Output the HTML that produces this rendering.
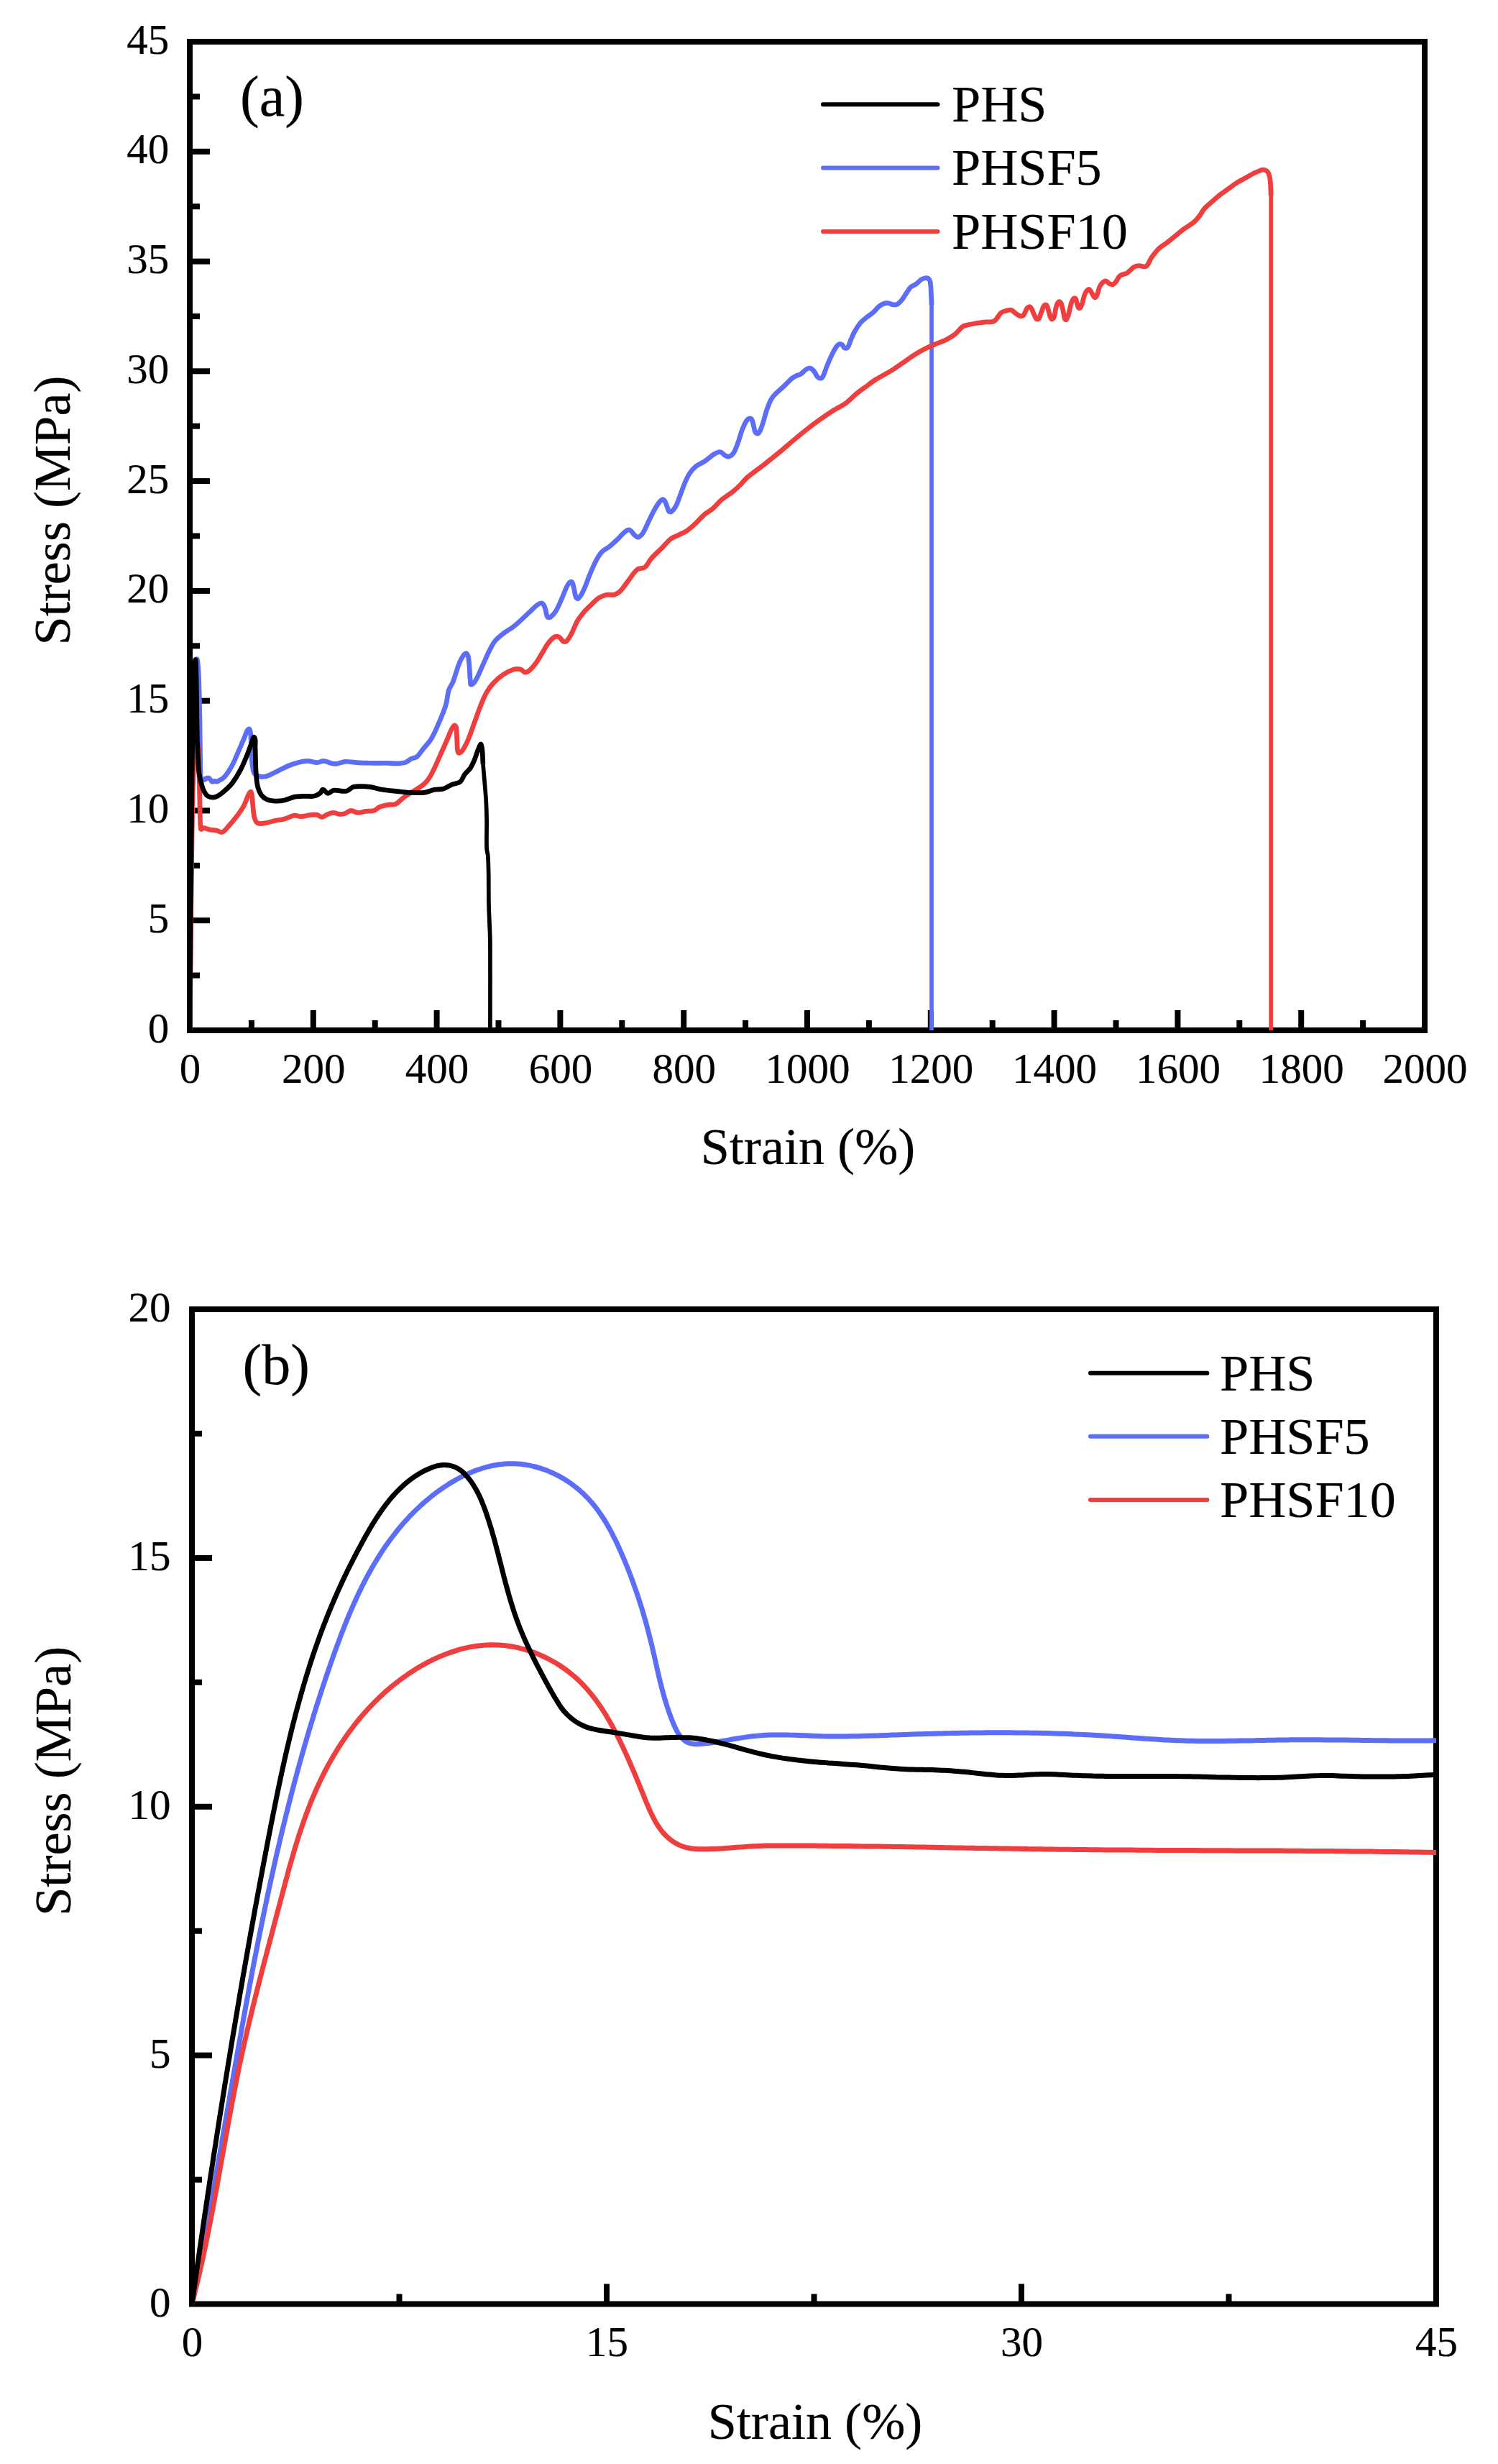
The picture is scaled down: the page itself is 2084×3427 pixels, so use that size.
<!DOCTYPE html>
<html lang="en"><head><meta charset="utf-8"><title>Stress-strain curves</title>
<style>html,body{margin:0;padding:0;background:#fff}body{width:2084px;height:3427px;overflow:hidden}</style>
</head><body>
<svg width="2084" height="3427" viewBox="0 0 2084 3427" style="display:block">
<defs><clipPath id="ca"><rect x="264" y="0" width="1718" height="1433.6"/></clipPath><clipPath id="cb"><rect x="267" y="1700" width="1731" height="1505.1"/></clipPath></defs>
<rect width="2084" height="3427" fill="#fff"/>
<rect x="264" y="58" width="1718" height="1375" fill="none" stroke="#000" stroke-width="8"/>
<g stroke="#000" stroke-width="8"><line x1="435.8" y1="1433" x2="435.8" y2="1405"/><line x1="607.6" y1="1433" x2="607.6" y2="1405"/><line x1="779.4" y1="1433" x2="779.4" y2="1405"/><line x1="951.2" y1="1433" x2="951.2" y2="1405"/><line x1="1123.0" y1="1433" x2="1123.0" y2="1405"/><line x1="1294.8" y1="1433" x2="1294.8" y2="1405"/><line x1="1466.6" y1="1433" x2="1466.6" y2="1405"/><line x1="1638.4" y1="1433" x2="1638.4" y2="1405"/><line x1="1810.2" y1="1433" x2="1810.2" y2="1405"/><line x1="349.9" y1="1433" x2="349.9" y2="1419"/><line x1="521.7" y1="1433" x2="521.7" y2="1419"/><line x1="693.5" y1="1433" x2="693.5" y2="1419"/><line x1="865.3" y1="1433" x2="865.3" y2="1419"/><line x1="1037.1" y1="1433" x2="1037.1" y2="1419"/><line x1="1208.9" y1="1433" x2="1208.9" y2="1419"/><line x1="1380.7" y1="1433" x2="1380.7" y2="1419"/><line x1="1552.5" y1="1433" x2="1552.5" y2="1419"/><line x1="1724.3" y1="1433" x2="1724.3" y2="1419"/><line x1="1896.1" y1="1433" x2="1896.1" y2="1419"/><line x1="264" y1="1280.2" x2="292" y2="1280.2"/><line x1="264" y1="1127.4" x2="292" y2="1127.4"/><line x1="264" y1="974.7" x2="292" y2="974.7"/><line x1="264" y1="821.9" x2="292" y2="821.9"/><line x1="264" y1="669.1" x2="292" y2="669.1"/><line x1="264" y1="516.3" x2="292" y2="516.3"/><line x1="264" y1="363.6" x2="292" y2="363.6"/><line x1="264" y1="210.8" x2="292" y2="210.8"/><line x1="264" y1="1356.6" x2="278" y2="1356.6"/><line x1="264" y1="1203.8" x2="278" y2="1203.8"/><line x1="264" y1="1051.1" x2="278" y2="1051.1"/><line x1="264" y1="898.3" x2="278" y2="898.3"/><line x1="264" y1="745.5" x2="278" y2="745.5"/><line x1="264" y1="592.7" x2="278" y2="592.7"/><line x1="264" y1="439.9" x2="278" y2="439.9"/><line x1="264" y1="287.2" x2="278" y2="287.2"/><line x1="264" y1="134.4" x2="278" y2="134.4"/></g>
<g font-family="Liberation Serif, Times New Roman, serif" stroke="#000" stroke-width="0.2" font-size="59" fill="#000"><text x="235.3" y="1449.5" text-anchor="end">0</text><text x="235.3" y="1296.7" text-anchor="end">5</text><text x="235.3" y="1143.9" text-anchor="end">10</text><text x="235.3" y="991.2" text-anchor="end">15</text><text x="235.3" y="838.4" text-anchor="end">20</text><text x="235.3" y="685.6" text-anchor="end">25</text><text x="235.3" y="532.8" text-anchor="end">30</text><text x="235.3" y="380.1" text-anchor="end">35</text><text x="235.3" y="227.3" text-anchor="end">40</text><text x="235.3" y="74.5" text-anchor="end">45</text><text x="264.5" y="1505.8" text-anchor="middle">0</text><text x="436.3" y="1505.8" text-anchor="middle">200</text><text x="608.1" y="1505.8" text-anchor="middle">400</text><text x="779.9" y="1505.8" text-anchor="middle">600</text><text x="951.7" y="1505.8" text-anchor="middle">800</text><text x="1123.5" y="1505.8" text-anchor="middle">1000</text><text x="1295.3" y="1505.8" text-anchor="middle">1200</text><text x="1467.1" y="1505.8" text-anchor="middle">1400</text><text x="1638.9" y="1505.8" text-anchor="middle">1600</text><text x="1810.7" y="1505.8" text-anchor="middle">1800</text><text x="1982.5" y="1505.8" text-anchor="middle">2000</text></g>
<path d="M264.0 1433.0C264.0 1431.7 264.0 1430.4 264.0 1429.1C264.1 1427.8 264.1 1426.5 264.1 1425.2C264.1 1423.9 264.1 1422.6 264.1 1421.3C264.1 1420.0 264.1 1418.7 264.2 1417.4C264.2 1416.1 264.2 1414.8 264.2 1413.5C264.2 1412.2 264.2 1410.9 264.2 1409.6C264.2 1408.3 264.3 1407.0 264.3 1405.7C264.3 1404.4 264.3 1403.1 264.3 1401.8C264.3 1400.5 264.3 1399.2 264.3 1397.9C264.4 1396.6 264.4 1395.3 264.4 1394.0C264.4 1392.7 264.4 1391.4 264.4 1390.0C264.4 1388.7 264.4 1387.4 264.5 1386.1C264.5 1384.8 264.5 1383.5 264.5 1382.2C264.5 1380.9 264.5 1379.6 264.5 1378.3C264.5 1377.0 264.6 1375.7 264.6 1374.4C264.6 1373.1 264.6 1371.8 264.6 1370.5C264.6 1369.2 264.6 1367.9 264.6 1366.6C264.6 1365.3 264.7 1364.0 264.7 1362.7C264.7 1361.4 264.7 1360.0 264.7 1358.7C264.7 1357.4 264.7 1356.1 264.7 1354.8C264.8 1353.5 264.8 1352.2 264.8 1350.9C264.8 1349.6 264.8 1348.3 264.8 1347.0C264.8 1345.7 264.8 1344.4 264.8 1343.1C264.9 1341.8 264.9 1340.5 264.9 1339.2C264.9 1337.9 264.9 1336.5 264.9 1335.2C264.9 1333.9 264.9 1332.6 264.9 1331.3C265.0 1330.0 265.0 1328.7 265.0 1327.4C265.0 1326.1 265.0 1324.8 265.0 1323.5C265.0 1322.2 265.0 1320.9 265.1 1319.6C265.1 1318.3 265.1 1317.0 265.1 1315.7C265.1 1314.3 265.1 1313.0 265.1 1311.7C265.1 1310.4 265.1 1309.1 265.2 1307.8C265.2 1306.5 265.2 1305.2 265.2 1303.9C265.2 1302.6 265.2 1301.3 265.2 1300.0C265.2 1298.7 265.2 1297.4 265.3 1296.1C265.3 1294.8 265.3 1293.5 265.3 1292.1C265.3 1290.8 265.3 1289.5 265.3 1288.2C265.3 1286.9 265.4 1285.6 265.4 1284.3C265.4 1283.0 265.4 1281.7 265.4 1280.4C265.4 1279.1 265.4 1277.8 265.4 1276.5C265.4 1275.2 265.5 1273.9 265.5 1272.6C265.5 1271.3 265.5 1270.0 265.5 1268.7C265.5 1267.3 265.5 1266.0 265.5 1264.7C265.6 1263.4 265.6 1262.1 265.6 1260.8C265.6 1259.5 265.6 1258.2 265.6 1256.9C265.6 1255.6 265.6 1254.3 265.6 1253.0C265.7 1251.7 265.7 1250.4 265.7 1249.1C265.7 1247.8 265.7 1246.5 265.7 1245.2C265.7 1243.9 265.7 1242.6 265.8 1241.3C265.8 1240.0 265.8 1238.7 265.8 1237.4C265.8 1236.1 265.8 1234.8 265.8 1233.4C265.8 1232.1 265.9 1230.8 265.9 1229.5C265.9 1228.2 265.9 1226.9 265.9 1225.6C265.9 1224.3 265.9 1223.0 265.9 1221.7C266.0 1220.4 266.0 1219.1 266.0 1217.8C266.0 1216.5 266.0 1215.2 266.0 1213.9C266.0 1212.6 266.0 1211.3 266.1 1210.0C266.1 1208.7 266.1 1207.4 266.1 1206.1C266.1 1204.8 266.1 1203.5 266.1 1202.2C266.2 1200.9 266.2 1199.6 266.2 1198.3C266.2 1197.0 266.2 1195.7 266.2 1194.4C266.2 1193.1 266.2 1191.8 266.3 1190.5C266.3 1189.2 266.3 1187.9 266.3 1186.6C266.3 1185.3 266.3 1184.1 266.3 1182.8C266.4 1181.5 266.4 1180.2 266.4 1178.9C266.4 1177.6 266.4 1176.3 266.4 1175.0C266.4 1173.7 266.5 1172.4 266.5 1171.1C266.5 1169.8 266.5 1168.5 266.5 1167.2C266.5 1165.9 266.5 1164.6 266.6 1163.3C266.6 1162.0 266.6 1160.7 266.6 1159.5C266.6 1158.2 266.6 1156.9 266.6 1155.6C266.7 1154.3 266.7 1153.0 266.7 1151.7C266.7 1150.4 266.7 1149.1 266.7 1147.8C266.8 1146.5 266.8 1145.3 266.8 1144.0C266.8 1142.7 266.8 1141.4 266.8 1140.1C266.8 1138.8 266.9 1137.5 266.9 1136.2C266.9 1134.9 266.9 1133.7 266.9 1132.4C266.9 1131.1 267.0 1129.8 267.0 1128.5C267.0 1127.2 267.0 1125.9 267.0 1124.7C267.0 1123.4 267.1 1122.1 267.1 1120.8C267.1 1119.5 267.1 1118.2 267.1 1117.0C267.1 1115.7 267.2 1114.4 267.2 1113.1C267.2 1111.8 267.2 1110.6 267.2 1109.3C267.2 1108.0 267.3 1106.7 267.3 1105.4C267.3 1104.2 267.3 1102.9 267.3 1101.6C267.4 1100.3 267.4 1099.0 267.4 1097.8C267.4 1096.5 267.4 1095.2 267.4 1093.9C267.5 1092.7 267.5 1091.4 267.5 1090.1C267.5 1088.8 267.5 1087.6 267.6 1086.3C267.6 1085.0 267.6 1083.8 267.6 1082.5C267.6 1081.2 267.7 1079.9 267.7 1078.7C267.7 1077.4 267.7 1076.1 267.7 1074.9C267.7 1073.6 267.8 1072.3 267.8 1071.1C267.8 1069.8 267.8 1068.5 267.8 1067.3C267.9 1066.0 267.9 1064.7 267.9 1063.5C267.9 1062.2 267.9 1061.0 268.0 1059.7C268.0 1058.4 268.0 1057.2 268.0 1055.9C268.1 1054.6 268.1 1053.4 268.1 1052.1C268.1 1050.9 268.1 1049.6 268.2 1048.4C268.2 1047.1 268.2 1045.8 268.2 1044.6C268.2 1043.3 268.3 1042.1 268.3 1040.8C268.3 1039.6 268.3 1038.3 268.4 1037.1C268.4 1035.8 268.4 1034.6 268.4 1033.3C268.4 1032.1 268.5 1030.8 268.5 1029.6C268.5 1028.3 268.5 1027.1 268.6 1025.9C268.6 1024.6 268.6 1023.4 268.6 1022.1C268.7 1020.9 268.7 1019.7 268.7 1018.4C268.7 1017.2 268.8 1016.0 268.8 1014.7C268.8 1013.5 268.8 1012.3 268.9 1011.0C268.9 1009.8 268.9 1008.6 268.9 1007.4C269.0 1006.2 269.0 1004.9 269.0 1003.7C269.0 1002.5 269.1 1001.3 269.1 1000.1C269.1 998.9 269.1 997.7 269.2 996.5C269.2 995.3 269.2 994.1 269.3 992.9C269.3 991.7 269.3 990.6 269.4 989.4C269.4 988.2 269.4 987.0 269.4 985.9C269.5 984.7 269.5 983.5 269.5 982.4C269.6 981.2 269.6 980.1 269.6 978.9C269.7 977.8 269.7 976.6 269.7 975.5C269.8 974.4 269.8 973.3 269.9 972.1C269.9 971.0 269.9 969.9 270.0 968.8C270.0 967.7 270.0 966.6 270.1 965.6C270.1 964.5 270.2 963.4 270.2 962.3C270.2 961.3 270.3 960.2 270.3 959.2C270.4 958.2 270.4 957.1 270.5 956.1C270.5 955.1 270.5 954.1 270.6 953.1C270.6 952.1 270.7 951.1 270.7 950.1C270.8 949.2 270.8 948.2 270.9 947.3C270.9 946.3 270.9 945.4 271.0 944.5C271.0 943.6 271.1 942.7 271.1 941.8C271.2 940.9 271.2 940.0 271.3 939.2C271.3 938.3 271.4 937.5 271.5 936.6C271.5 935.8 271.6 935.0 271.6 934.2C271.7 933.4 271.7 932.7 271.8 931.9C271.8 931.2 271.9 930.4 271.9 929.7C272.0 929.0 272.1 928.3 272.1 927.6C272.2 927.0 272.2 926.3 272.3 925.7C272.3 925.1 272.4 924.5 272.5 923.9C272.5 923.3 272.6 922.8 272.7 922.2C272.7 921.8 272.8 921.3 272.8 920.8C272.9 920.4 273.0 919.9 273.0 919.5C273.1 919.2 273.2 918.8 273.2 918.5C273.3 918.2 273.3 917.9 273.4 917.6C273.5 917.4 273.5 917.2 273.6 917.1C273.7 917.0 273.7 916.8 273.8 916.8C273.9 916.7 274.0 916.7 274.0 916.7C274.1 916.8 274.2 916.9 274.2 917.0C274.3 917.2 274.4 917.4 274.4 917.6C274.5 917.8 274.6 918.1 274.6 918.4C274.7 918.7 274.8 919.1 274.8 919.5C274.9 919.9 274.9 920.3 275.0 920.8C275.1 921.3 275.1 921.8 275.2 922.3C275.3 922.9 275.3 923.4 275.4 924.0C275.4 924.7 275.5 925.3 275.5 926.0C275.6 926.7 275.7 927.4 275.7 928.1C275.8 928.9 275.8 929.6 275.9 930.4C275.9 931.2 276.0 932.1 276.0 932.9C276.1 933.8 276.1 934.7 276.2 935.6C276.2 936.5 276.3 937.5 276.3 938.4C276.4 939.4 276.4 940.4 276.5 941.4C276.5 942.4 276.5 943.5 276.6 944.5C276.6 945.6 276.7 946.7 276.7 947.8C276.7 948.9 276.8 950.0 276.8 951.1C276.8 952.2 276.9 953.4 276.9 954.5C276.9 955.7 277.0 956.8 277.0 958.0C277.0 959.1 277.1 960.3 277.1 961.5C277.1 962.7 277.2 963.9 277.2 965.1C277.2 966.3 277.2 967.5 277.3 968.7C277.3 969.9 277.3 971.1 277.4 972.3C277.4 973.5 277.4 974.7 277.4 976.0C277.5 977.2 277.5 978.4 277.5 979.6C277.5 980.9 277.6 982.1 277.6 983.3C277.6 984.6 277.6 985.8 277.7 987.1C277.7 988.3 277.7 989.5 277.7 990.8C277.7 992.0 277.8 993.3 277.8 994.5C277.8 995.8 277.8 997.1 277.9 998.3C277.9 999.6 277.9 1000.8 277.9 1002.1C277.9 1003.4 278.0 1004.6 278.0 1005.9C278.0 1007.2 278.0 1008.4 278.0 1009.7C278.1 1011.0 278.1 1012.2 278.1 1013.5C278.1 1014.8 278.1 1016.1 278.1 1017.3C278.2 1018.6 278.2 1019.9 278.2 1021.2C278.2 1022.5 278.2 1023.8 278.2 1025.1C278.3 1026.3 278.3 1027.6 278.3 1028.9C278.3 1030.2 278.3 1031.5 278.3 1032.8C278.4 1034.1 278.4 1035.4 278.4 1036.7C278.4 1038.0 278.4 1039.3 278.4 1040.5C278.4 1041.8 278.5 1043.1 278.5 1044.4C278.5 1045.7 278.5 1047.0 278.5 1048.3C278.5 1049.6 278.5 1050.9 278.6 1052.2C278.6 1053.4 278.6 1054.7 278.6 1056.0C278.6 1057.3 278.7 1058.6 278.7 1059.8C278.7 1061.1 278.7 1062.4 278.7 1063.7C278.7 1064.9 278.8 1066.2 278.8 1067.4C278.8 1068.7 278.8 1069.9 278.9 1071.2C278.9 1072.4 278.9 1073.7 278.9 1074.9C279.0 1076.1 279.0 1077.4 279.0 1078.6C279.0 1079.8 279.1 1080.9 279.1 1082.1C279.1 1083.2 279.2 1084.2 279.2 1085.3C279.3 1086.1 279.3 1086.9 279.4 1087.7C279.4 1088.1 279.4 1088.5 279.6 1088.9C279.6 1088.9 279.7 1089.0 279.8 1089.0C279.9 1088.9 279.9 1088.7 280.0 1088.6C280.0 1088.4 280.1 1088.3 280.2 1088.1C280.2 1087.9 280.3 1087.7 280.4 1087.5C280.4 1087.3 280.5 1087.1 280.6 1086.9C280.6 1086.6 280.7 1086.4 280.8 1086.2C280.8 1086.0 280.9 1085.7 281.0 1085.5C281.0 1085.3 281.1 1085.1 281.2 1084.9C281.2 1084.7 281.3 1084.5 281.4 1084.3C281.4 1084.2 281.5 1084.0 281.6 1083.9C281.6 1083.8 281.7 1083.7 281.8 1083.6C281.8 1083.5 281.9 1083.5 282.0 1083.4C282.0 1083.4 282.1 1083.4 282.2 1083.3C282.2 1083.3 282.3 1083.3 282.4 1083.3C282.4 1083.4 282.5 1083.4 282.6 1083.4C282.6 1083.5 282.7 1083.5 282.8 1083.5C282.8 1083.6 282.9 1083.6 283.0 1083.7C283.0 1083.7 283.1 1083.8 283.2 1083.8C283.2 1083.9 283.3 1083.9 283.4 1084.0C283.4 1084.0 283.5 1084.1 283.6 1084.1C283.6 1084.2 283.7 1084.2 283.8 1084.2C283.8 1084.2 283.9 1084.2 284.0 1084.2C284.0 1084.3 284.1 1084.3 284.2 1084.3C284.2 1084.3 284.3 1084.2 284.4 1084.2C284.4 1084.2 284.5 1084.2 284.6 1084.2C284.6 1084.1 284.7 1084.1 284.8 1084.1C284.8 1084.0 284.9 1084.0 285.0 1084.0C285.0 1083.9 285.1 1083.9 285.2 1083.9C285.2 1083.8 285.3 1083.8 285.4 1083.7C285.4 1083.7 285.5 1083.6 285.6 1083.6C285.6 1083.5 285.7 1083.5 285.8 1083.4C285.8 1083.4 285.9 1083.3 286.0 1083.3C286.0 1083.2 286.1 1083.2 286.2 1083.1C286.2 1083.1 286.3 1083.0 286.4 1083.0C286.4 1082.9 286.5 1082.9 286.6 1082.9C286.6 1082.8 286.7 1082.8 286.8 1082.7C286.8 1082.7 286.9 1082.7 287.0 1082.6C287.0 1082.6 287.1 1082.5 287.2 1082.5C287.2 1082.5 287.3 1082.4 287.4 1082.4C287.4 1082.4 287.5 1082.3 287.6 1082.3C287.7 1082.3 287.7 1082.3 287.8 1082.2C287.9 1082.2 287.9 1082.2 288.0 1082.2C288.1 1082.1 288.1 1082.1 288.2 1082.1C288.3 1082.1 288.3 1082.1 288.4 1082.1C288.5 1082.0 288.5 1082.0 288.6 1082.0C288.7 1082.0 288.7 1082.0 288.8 1082.0C288.9 1082.0 288.9 1082.0 289.0 1082.0C289.1 1082.0 289.1 1082.0 289.2 1082.0C289.3 1082.0 289.3 1082.0 289.4 1082.0C289.5 1082.0 289.5 1082.0 289.6 1082.0C289.7 1082.0 289.7 1082.0 289.8 1082.0C289.9 1082.1 289.9 1082.1 290.0 1082.1C290.1 1082.1 290.1 1082.1 290.2 1082.2C290.3 1082.2 290.3 1082.2 290.4 1082.2C290.5 1082.3 290.5 1082.3 290.6 1082.3C290.7 1082.4 290.7 1082.4 290.8 1082.4C290.9 1082.5 290.9 1082.5 291.0 1082.6C291.1 1082.6 291.1 1082.7 291.2 1082.7C291.3 1082.8 291.3 1082.8 291.4 1082.9C291.5 1082.9 291.5 1083.0 291.6 1083.1C291.7 1083.1 291.7 1083.2 291.8 1083.3C291.9 1083.3 291.9 1083.4 292.0 1083.5C292.1 1083.6 292.1 1083.6 292.2 1083.7C292.3 1083.8 292.3 1083.9 292.4 1084.0C292.5 1084.1 292.5 1084.2 292.6 1084.2C292.7 1084.3 292.7 1084.4 292.8 1084.5C292.9 1084.6 292.9 1084.7 293.0 1084.8C293.1 1084.9 293.1 1085.0 293.2 1085.1C293.3 1085.2 293.3 1085.3 293.4 1085.4C293.5 1085.5 293.5 1085.6 293.6 1085.7C293.7 1085.8 293.7 1085.8 293.8 1085.9C293.9 1086.0 293.9 1086.1 294.0 1086.2C294.1 1086.3 294.1 1086.3 294.2 1086.4C294.3 1086.5 294.3 1086.5 294.4 1086.6C294.5 1086.7 294.5 1086.7 294.6 1086.8C294.7 1086.8 294.7 1086.9 294.8 1086.9C294.9 1087.0 294.9 1087.0 295.0 1087.0C295.1 1087.0 295.1 1087.1 295.2 1087.1C295.3 1087.1 295.4 1087.1 295.4 1087.1C295.5 1087.1 295.6 1087.1 295.6 1087.1C295.7 1087.1 295.8 1087.1 295.8 1087.1C295.9 1087.1 296.0 1087.1 296.0 1087.1C296.1 1087.1 296.2 1087.1 296.2 1087.1C296.3 1087.0 296.4 1087.0 296.4 1087.0C296.5 1087.0 296.6 1087.0 296.6 1086.9C296.7 1086.9 296.8 1086.9 296.8 1086.9C296.9 1086.8 297.0 1086.8 297.0 1086.8C297.1 1086.8 297.2 1086.7 297.2 1086.7C297.3 1086.7 297.4 1086.6 297.4 1086.6C297.5 1086.6 297.6 1086.6 297.6 1086.5C297.7 1086.5 297.8 1086.5 297.8 1086.5C297.9 1086.5 298.0 1086.4 298.0 1086.4C298.1 1086.4 298.2 1086.4 298.2 1086.4C298.3 1086.4 298.4 1086.4 298.4 1086.4C298.5 1086.4 298.6 1086.4 298.6 1086.4C298.7 1086.4 298.8 1086.4 298.8 1086.4C298.9 1086.4 299.0 1086.4 299.0 1086.4C299.1 1086.4 299.2 1086.4 299.2 1086.4C299.3 1086.4 299.4 1086.4 299.4 1086.4C299.5 1086.5 299.6 1086.5 299.6 1086.5C299.7 1086.5 299.8 1086.5 299.8 1086.5C299.9 1086.5 300.0 1086.6 300.0 1086.6C300.1 1086.6 300.2 1086.6 300.2 1086.6C300.3 1086.6 300.4 1086.7 300.4 1086.7C300.5 1086.7 300.6 1086.7 300.6 1086.7C300.7 1086.7 300.8 1086.8 300.8 1086.8C300.9 1086.8 301.0 1086.8 301.0 1086.8C301.1 1086.8 301.2 1086.8 301.2 1086.9C301.3 1086.9 301.4 1086.9 301.4 1086.9C301.5 1086.9 301.6 1086.9 301.6 1086.9C301.7 1086.9 301.8 1086.9 301.9 1086.9C301.9 1086.9 302.0 1086.9 302.1 1086.9C302.1 1086.9 302.2 1086.9 302.3 1086.9C302.3 1086.9 302.4 1086.9 302.5 1086.9C302.5 1086.9 302.6 1086.9 302.7 1086.8C305.7 1084.9 309.4 1083.8 311.8 1081.1C316.4 1076.0 319.9 1070.1 323.2 1064.1C326.8 1057.5 329.3 1050.4 332.3 1043.6C335.0 1037.6 337.4 1031.5 340.2 1025.5C342.0 1021.6 342.2 1016.1 345.9 1014.1C348.0 1012.9 348.3 1018.5 348.6 1020.9C349.7 1031.5 349.2 1042.1 350.0 1052.7C350.5 1059.6 350.9 1066.6 352.7 1073.2C353.4 1075.6 355.1 1077.9 357.3 1078.9C360.8 1080.4 364.9 1080.6 368.6 1080.0C372.6 1079.4 376.3 1077.2 380.0 1075.5C383.9 1073.8 387.6 1071.7 391.4 1069.8C395.1 1068.0 398.8 1066.0 402.7 1064.5C406.4 1063.0 410.2 1061.6 414.1 1060.7C418.6 1059.6 423.1 1058.4 427.7 1058.4C432.3 1058.4 436.8 1060.7 441.4 1060.7C444.4 1060.7 447.0 1058.2 450.0 1058.3C453.5 1058.4 456.6 1060.5 460.0 1061.3C462.6 1061.9 465.3 1062.6 468.0 1062.3C472.1 1061.9 475.9 1059.5 480.0 1059.3C486.7 1059.0 493.3 1060.6 500.0 1060.9C506.7 1061.2 513.4 1061.2 520.1 1061.3C526.8 1061.4 533.4 1061.2 540.1 1061.3C544.1 1061.4 548.2 1062.1 552.2 1061.9C556.2 1061.7 560.4 1061.6 564.2 1060.3C567.2 1059.3 569.4 1056.7 572.2 1055.3C574.7 1054.0 578.0 1054.1 580.2 1052.3C583.5 1049.6 585.5 1045.6 588.2 1042.3C592.2 1037.3 596.9 1032.7 600.2 1027.2C604.2 1020.6 607.2 1013.3 610.2 1006.2C613.9 997.7 617.6 989.1 620.3 980.2C622.3 973.7 622.3 966.6 624.3 960.1C625.6 955.8 628.7 952.3 630.3 948.1C633.4 940.2 635.2 932.0 638.3 924.1C639.9 919.9 641.7 915.7 644.3 912.1C645.4 910.5 647.9 907.7 649.3 909.1C652.0 911.8 651.8 916.3 652.3 920.1C653.5 928.7 653.3 937.5 654.3 946.1C654.5 948.2 653.8 952.4 655.9 952.1C659.0 951.7 660.7 947.8 662.3 945.1C665.5 939.7 667.7 933.8 670.3 928.1C673.7 920.8 676.7 913.3 680.3 906.1C682.7 901.3 684.9 896.2 688.3 892.0C691.7 887.7 696.1 884.4 700.4 881.0C705.5 877.0 711.4 874.1 716.4 870.0C722.9 864.7 728.8 858.6 735.0 852.9C739.3 849.0 743.1 844.5 747.8 841.1C749.6 839.8 752.2 838.0 754.2 839.0C756.8 840.3 757.5 843.7 758.5 846.4C760.0 850.2 759.5 854.7 761.7 858.2C762.4 859.4 764.8 859.0 765.9 858.2C769.0 856.0 771.4 852.9 773.4 849.7C776.9 844.0 779.2 837.6 782.0 831.5C784.6 825.8 786.3 819.8 789.4 814.4C790.7 812.2 792.3 808.5 794.8 809.1C797.4 809.7 797.2 813.9 798.0 816.5C799.4 821.1 799.4 826.0 801.2 830.4C801.7 831.6 803.4 833.5 804.4 832.6C807.9 829.5 809.9 825.0 811.9 820.8C815.2 813.9 817.4 806.5 820.4 799.4C823.1 792.9 825.7 786.4 829.0 780.2C831.4 775.7 834.0 771.1 837.5 767.4C840.5 764.2 844.8 762.6 848.2 759.9C851.9 756.9 855.4 753.6 858.9 750.3C862.5 746.8 865.5 742.7 869.5 739.6C871.3 738.2 873.8 736.4 876.0 737.1C879.0 738.1 880.0 741.9 882.4 743.9C884.0 745.2 885.7 747.5 887.7 747.1C890.4 746.6 892.5 744.1 894.1 741.8C897.3 737.2 899.1 731.8 901.6 726.8C904.4 721.1 907.0 715.3 910.1 709.7C912.3 705.7 914.6 701.5 917.6 698.0C918.9 696.4 921.0 694.0 922.9 694.8C925.5 695.9 926.0 699.6 927.2 702.2C928.5 705.0 928.7 708.2 930.4 710.8C931.0 711.7 932.7 712.5 933.6 711.9C936.3 710.1 938.4 707.3 940.0 704.4C942.7 699.4 944.3 693.8 946.4 688.4C948.6 682.7 950.5 676.9 952.9 671.3C954.8 666.9 956.7 662.5 959.3 658.5C961.7 654.9 964.4 651.5 967.8 648.8C971.6 645.7 976.5 644.1 980.6 641.4C985.1 638.4 988.8 634.5 993.4 631.7C996.0 630.1 999.0 628.2 1002.0 628.5C1004.6 628.8 1006.1 631.9 1008.4 633.2C1010.0 634.1 1011.9 635.4 1013.7 635.0C1016.2 634.5 1018.7 632.8 1020.1 630.7C1023.0 626.4 1024.6 621.3 1026.4 616.4C1028.8 610.1 1030.3 603.4 1032.8 597.1C1034.6 592.7 1036.2 588.0 1039.2 584.3C1040.4 582.8 1043.0 581.2 1044.6 582.2C1046.9 583.6 1046.9 587.1 1047.8 589.7C1049.1 593.5 1049.0 597.9 1051.0 601.4C1051.7 602.7 1054.2 603.6 1055.2 602.5C1058.1 599.3 1059.1 594.8 1060.6 590.7C1063.1 583.7 1064.5 576.4 1067.0 569.4C1068.8 564.3 1070.7 559.1 1073.4 554.4C1075.0 551.5 1077.5 549.2 1079.8 546.9C1083.2 543.5 1087.0 540.6 1090.5 537.3C1094.2 533.8 1097.4 529.9 1101.2 526.6C1103.1 525.0 1105.4 523.9 1107.6 522.8C1109.7 521.8 1112.1 521.5 1114.0 520.2C1116.8 518.4 1118.7 515.6 1121.5 513.8C1123.1 512.8 1125.0 511.7 1126.8 512.1C1129.0 512.5 1130.7 514.3 1132.2 516.0C1134.4 518.5 1135.2 522.1 1137.5 524.5C1138.6 525.6 1140.3 526.4 1141.8 526.2C1143.2 526.0 1144.4 524.7 1145.0 523.4C1147.2 519.0 1148.4 514.1 1150.3 509.5C1152.3 504.5 1154.4 499.5 1156.7 494.6C1158.6 490.6 1160.6 486.5 1163.1 482.8C1164.2 481.1 1165.5 479.3 1167.4 478.6C1168.8 478.1 1170.5 478.8 1171.7 479.6C1173.2 480.6 1173.3 483.1 1174.9 483.9C1176.2 484.6 1178.3 484.6 1179.2 483.5C1181.5 480.6 1181.9 476.6 1183.4 473.2C1185.1 469.3 1186.7 465.2 1188.8 461.5C1191.3 457.0 1194.0 452.6 1197.3 448.7C1199.8 445.8 1202.9 443.6 1205.9 441.2C1208.7 439.0 1211.7 437.1 1214.4 434.8C1217.4 432.1 1219.8 428.7 1222.9 426.2C1225.1 424.4 1227.7 423.0 1230.4 422.0C1232.1 421.4 1234.0 421.2 1235.8 421.5C1238.0 421.8 1240.0 423.4 1242.2 423.7C1244.3 423.9 1246.7 424.0 1248.6 423.0C1251.2 421.5 1253.1 419.0 1255.0 416.6C1257.4 413.6 1259.2 410.2 1261.4 407.0C1263.1 404.5 1264.4 401.6 1266.7 399.5C1268.8 397.5 1271.9 396.9 1274.2 395.2C1276.9 393.3 1279.0 390.6 1281.7 388.8C1283.3 387.7 1285.1 387.0 1287.0 386.7C1288.4 386.5 1290.1 386.4 1291.3 387.3C1292.8 388.4 1293.8 390.2 1294.1 392.0C1295.3 399.1 1295.2 406.3 1295.6 413.4C1295.8 416.9 1295.9 420.5 1296.0 424.0" fill="none" stroke="#5c6ef8" stroke-width="6.7" stroke-linejoin="round" stroke-linecap="butt" clip-path="url(#ca)"/>
<path d="M1296.0 422.0L1296.0 1433.0" fill="none" stroke="#5c6ef8" stroke-width="5.7" stroke-linejoin="round" stroke-linecap="butt" clip-path="url(#ca)"/>
<path d="M264.0 1433.0C264.0 1431.7 264.0 1430.4 264.1 1429.1C264.1 1427.9 264.1 1426.6 264.1 1425.3C264.1 1424.0 264.1 1422.7 264.1 1421.4C264.2 1420.1 264.2 1418.8 264.2 1417.6C264.2 1416.3 264.2 1415.0 264.2 1413.7C264.3 1412.4 264.3 1411.1 264.3 1409.8C264.3 1408.5 264.3 1407.2 264.3 1405.9C264.3 1404.6 264.4 1403.3 264.4 1402.0C264.4 1400.7 264.4 1399.4 264.4 1398.1C264.4 1396.8 264.4 1395.5 264.5 1394.2C264.5 1392.9 264.5 1391.6 264.5 1390.3C264.5 1389.0 264.5 1387.7 264.5 1386.4C264.5 1385.1 264.6 1383.8 264.6 1382.5C264.6 1381.2 264.6 1379.9 264.6 1378.6C264.6 1377.3 264.6 1376.0 264.6 1374.7C264.7 1373.4 264.7 1372.1 264.7 1370.8C264.7 1369.5 264.7 1368.2 264.7 1366.9C264.7 1365.6 264.7 1364.3 264.8 1363.0C264.8 1361.7 264.8 1360.4 264.8 1359.1C264.8 1357.8 264.8 1356.5 264.8 1355.2C264.8 1353.9 264.9 1352.6 264.9 1351.3C264.9 1350.0 264.9 1348.6 264.9 1347.3C264.9 1346.0 264.9 1344.7 264.9 1343.4C264.9 1342.1 265.0 1340.8 265.0 1339.5C265.0 1338.2 265.0 1336.9 265.0 1335.6C265.0 1334.3 265.0 1333.0 265.0 1331.7C265.1 1330.4 265.1 1329.1 265.1 1327.8C265.1 1326.5 265.1 1325.2 265.1 1323.9C265.1 1322.5 265.1 1321.2 265.1 1319.9C265.2 1318.6 265.2 1317.3 265.2 1316.0C265.2 1314.7 265.2 1313.4 265.2 1312.1C265.2 1310.8 265.2 1309.5 265.3 1308.2C265.3 1306.9 265.3 1305.6 265.3 1304.3C265.3 1303.0 265.3 1301.7 265.3 1300.4C265.3 1299.1 265.4 1297.8 265.4 1296.5C265.4 1295.2 265.4 1293.9 265.4 1292.6C265.4 1291.3 265.4 1290.0 265.5 1288.7C265.5 1287.4 265.5 1286.1 265.5 1284.8C265.5 1283.5 265.5 1282.2 265.5 1280.9C265.6 1279.6 265.6 1278.3 265.6 1277.0C265.6 1275.7 265.6 1274.4 265.6 1273.2C265.6 1271.9 265.7 1270.6 265.7 1269.3C265.7 1268.0 265.7 1266.7 265.7 1265.4C265.7 1264.1 265.7 1262.8 265.8 1261.5C265.8 1260.2 265.8 1258.9 265.8 1257.7C265.8 1256.4 265.8 1255.1 265.9 1253.8C265.9 1252.5 265.9 1251.2 265.9 1249.9C265.9 1248.6 265.9 1247.4 265.9 1246.1C266.0 1244.8 266.0 1243.5 266.0 1242.2C266.0 1240.9 266.0 1239.6 266.0 1238.4C266.1 1237.1 266.1 1235.8 266.1 1234.5C266.1 1233.2 266.1 1231.9 266.1 1230.6C266.2 1229.4 266.2 1228.1 266.2 1226.8C266.2 1225.5 266.2 1224.2 266.2 1222.9C266.3 1221.7 266.3 1220.4 266.3 1219.1C266.3 1217.8 266.3 1216.5 266.4 1215.3C266.4 1214.0 266.4 1212.7 266.4 1211.4C266.4 1210.1 266.4 1208.8 266.5 1207.6C266.5 1206.3 266.5 1205.0 266.5 1203.7C266.5 1202.4 266.5 1201.2 266.6 1199.9C266.6 1198.6 266.6 1197.3 266.6 1196.0C266.6 1194.7 266.6 1193.5 266.7 1192.2C266.7 1190.9 266.7 1189.6 266.7 1188.3C266.7 1187.1 266.7 1185.8 266.8 1184.5C266.8 1183.2 266.8 1181.9 266.8 1180.6C266.8 1179.4 266.8 1178.1 266.9 1176.8C266.9 1175.5 266.9 1174.2 266.9 1173.0C266.9 1171.7 267.0 1170.4 267.0 1169.1C267.0 1167.8 267.0 1166.6 267.0 1165.3C267.0 1164.0 267.1 1162.7 267.1 1161.5C267.1 1160.2 267.1 1158.9 267.1 1157.6C267.2 1156.4 267.2 1155.1 267.2 1153.8C267.2 1152.5 267.2 1151.3 267.2 1150.0C267.3 1148.7 267.3 1147.5 267.3 1146.2C267.3 1144.9 267.3 1143.7 267.4 1142.4C267.4 1141.2 267.4 1139.9 267.4 1138.7C267.5 1137.4 267.5 1136.2 267.5 1134.9C267.5 1133.7 267.5 1132.4 267.6 1131.2C267.6 1129.9 267.6 1128.7 267.6 1127.4C267.7 1126.2 267.7 1125.0 267.7 1123.8C267.7 1122.5 267.8 1121.3 267.8 1120.1C267.8 1118.9 267.8 1117.6 267.9 1116.4C267.9 1115.2 267.9 1114.0 268.0 1112.8C268.0 1111.6 268.0 1110.4 268.0 1109.2C268.1 1108.0 268.1 1106.9 268.1 1105.7C268.2 1104.5 268.2 1103.3 268.2 1102.2C268.3 1101.0 268.3 1099.9 268.3 1098.7C268.4 1097.5 268.4 1096.4 268.4 1095.3C268.5 1094.1 268.5 1093.0 268.5 1091.9C268.6 1090.8 268.6 1089.6 268.6 1088.5C268.7 1087.4 268.7 1086.3 268.8 1085.2C268.8 1084.1 268.8 1083.1 268.9 1082.0C268.9 1080.9 268.9 1079.9 269.0 1078.8C269.0 1077.7 269.1 1076.7 269.1 1075.7C269.2 1074.6 269.2 1073.6 269.2 1072.6C269.3 1071.6 269.3 1070.6 269.4 1069.6C269.4 1068.6 269.5 1067.6 269.5 1066.6C269.6 1065.7 269.6 1064.7 269.6 1063.8C269.7 1062.8 269.7 1061.9 269.8 1061.0C269.8 1060.1 269.9 1059.1 269.9 1058.2C270.0 1057.4 270.0 1056.5 270.1 1055.6C270.1 1054.7 270.2 1053.9 270.2 1053.0C270.3 1052.2 270.3 1051.4 270.4 1050.6C270.5 1049.8 270.5 1049.0 270.6 1048.2C270.6 1047.4 270.7 1046.7 270.7 1045.9C270.8 1045.2 270.8 1044.5 270.9 1043.7C270.9 1043.0 271.0 1042.3 271.1 1041.7C271.1 1041.0 271.2 1040.3 271.2 1039.7C271.3 1039.1 271.4 1038.5 271.4 1037.8C271.5 1037.3 271.5 1036.7 271.6 1036.1C271.7 1035.6 271.7 1035.1 271.8 1034.5C271.8 1034.1 271.9 1033.6 272.0 1033.1C272.0 1032.7 272.1 1032.2 272.2 1031.8C272.2 1031.4 272.3 1031.1 272.4 1030.7C272.4 1030.4 272.5 1030.1 272.5 1029.8C272.6 1029.5 272.7 1029.3 272.7 1029.0C272.8 1028.8 272.9 1028.6 272.9 1028.5C273.0 1028.3 273.1 1028.2 273.1 1028.1C273.2 1028.1 273.3 1028.0 273.3 1028.0C273.4 1028.0 273.5 1028.1 273.5 1028.1C273.6 1028.2 273.7 1028.4 273.7 1028.5C273.8 1028.7 273.9 1028.9 273.9 1029.1C274.0 1029.3 274.1 1029.6 274.1 1029.9C274.2 1030.2 274.3 1030.5 274.3 1030.9C274.4 1031.3 274.5 1031.7 274.5 1032.1C274.6 1032.5 274.7 1033.0 274.7 1033.5C274.8 1034.0 274.8 1034.5 274.9 1035.0C275.0 1035.6 275.0 1036.2 275.1 1036.8C275.1 1037.4 275.2 1038.1 275.3 1038.7C275.3 1039.4 275.4 1040.1 275.4 1040.8C275.5 1041.5 275.5 1042.3 275.6 1043.0C275.7 1043.8 275.7 1044.6 275.8 1045.4C275.8 1046.3 275.9 1047.1 275.9 1048.0C276.0 1048.9 276.0 1049.8 276.1 1050.7C276.1 1051.7 276.2 1052.6 276.2 1053.6C276.2 1054.5 276.3 1055.5 276.3 1056.5C276.4 1057.6 276.4 1058.6 276.5 1059.6C276.5 1060.7 276.5 1061.7 276.6 1062.8C276.6 1063.9 276.7 1065.0 276.7 1066.1C276.7 1067.2 276.8 1068.3 276.8 1069.4C276.8 1070.5 276.9 1071.6 276.9 1072.8C276.9 1073.9 277.0 1075.1 277.0 1076.2C277.0 1077.4 277.1 1078.6 277.1 1079.7C277.1 1080.9 277.2 1082.1 277.2 1083.2C277.2 1084.4 277.3 1085.6 277.3 1086.8C277.3 1088.0 277.3 1089.2 277.4 1090.4C277.4 1091.6 277.4 1092.8 277.5 1094.0C277.5 1095.2 277.5 1096.4 277.5 1097.6C277.6 1098.8 277.6 1100.0 277.6 1101.3C277.7 1102.5 277.7 1103.7 277.7 1104.9C277.7 1106.1 277.8 1107.4 277.8 1108.6C277.8 1109.8 277.8 1111.0 277.9 1112.2C277.9 1113.5 277.9 1114.7 277.9 1115.9C278.0 1117.2 278.0 1118.4 278.0 1119.6C278.0 1120.8 278.1 1122.1 278.1 1123.3C278.1 1124.5 278.1 1125.7 278.2 1127.0C278.2 1128.2 278.2 1129.4 278.2 1130.6C278.3 1131.8 278.3 1133.0 278.3 1134.2C278.4 1135.3 278.4 1136.5 278.4 1137.7C278.5 1138.8 278.5 1139.9 278.5 1141.0C278.6 1142.0 278.6 1143.1 278.7 1144.1C278.7 1145.0 278.8 1145.9 278.8 1146.9C278.9 1147.7 278.9 1148.5 279.0 1149.2C279.0 1149.9 279.1 1150.5 279.1 1151.1C279.2 1151.6 279.3 1152.0 279.3 1152.5C279.4 1152.7 279.4 1153.0 279.5 1153.2C279.6 1153.3 279.6 1153.4 279.7 1153.5C279.8 1153.5 279.9 1153.5 279.9 1153.5C280.0 1153.5 280.1 1153.5 280.1 1153.4C280.2 1153.4 280.3 1153.3 280.3 1153.3C280.4 1153.2 280.5 1153.1 280.5 1153.0C280.6 1152.9 280.7 1152.8 280.7 1152.7C280.8 1152.6 280.9 1152.5 280.9 1152.4C281.0 1152.3 281.1 1152.2 281.1 1152.1C281.2 1152.0 281.3 1152.0 281.3 1151.9C281.4 1151.8 281.5 1151.7 281.5 1151.7C281.6 1151.6 281.7 1151.6 281.7 1151.5C281.8 1151.5 281.9 1151.4 281.9 1151.4C282.0 1151.4 282.1 1151.4 282.1 1151.4C282.2 1151.4 282.3 1151.4 282.3 1151.4C282.4 1151.4 282.5 1151.4 282.5 1151.4C282.6 1151.4 282.7 1151.4 282.7 1151.4C282.8 1151.4 282.9 1151.4 283.0 1151.4C283.0 1151.4 283.1 1151.4 283.2 1151.4C283.2 1151.4 283.3 1151.4 283.4 1151.5C283.4 1151.5 283.5 1151.5 283.6 1151.5C283.6 1151.5 283.7 1151.5 283.8 1151.5C283.8 1151.5 283.9 1151.5 284.0 1151.6C284.0 1151.6 284.1 1151.6 284.2 1151.6C284.2 1151.6 284.3 1151.6 284.4 1151.6C284.4 1151.7 284.5 1151.7 284.6 1151.7C284.6 1151.7 284.7 1151.7 284.8 1151.7C284.8 1151.8 284.9 1151.8 285.0 1151.8C285.0 1151.8 285.1 1151.8 285.2 1151.8C285.2 1151.9 285.3 1151.9 285.4 1151.9C285.4 1151.9 285.5 1151.9 285.6 1152.0C285.6 1152.0 285.7 1152.0 285.8 1152.0C285.8 1152.0 285.9 1152.1 286.0 1152.1C286.0 1152.1 286.1 1152.1 286.2 1152.1C286.2 1152.2 286.3 1152.2 286.4 1152.2C286.4 1152.2 286.5 1152.3 286.6 1152.3C286.6 1152.3 286.7 1152.3 286.8 1152.3C286.8 1152.4 286.9 1152.4 287.0 1152.4C287.0 1152.4 287.1 1152.5 287.2 1152.5C287.2 1152.5 287.3 1152.5 287.4 1152.6C287.4 1152.6 287.5 1152.6 287.6 1152.6C287.6 1152.6 287.7 1152.7 287.8 1152.7C287.8 1152.7 287.9 1152.7 288.0 1152.8C288.0 1152.8 288.1 1152.8 288.2 1152.8C288.2 1152.9 288.3 1152.9 288.4 1152.9C288.4 1152.9 288.5 1152.9 288.6 1153.0C288.6 1153.0 288.7 1153.0 288.8 1153.0C288.8 1153.1 288.9 1153.1 289.0 1153.1C289.0 1153.1 289.1 1153.1 289.2 1153.2C289.3 1153.2 289.3 1153.2 289.4 1153.2C289.5 1153.3 289.5 1153.3 289.6 1153.3C289.7 1153.3 289.7 1153.3 289.8 1153.4C289.9 1153.4 289.9 1153.4 290.0 1153.4C290.1 1153.4 290.1 1153.5 290.2 1153.5C290.3 1153.5 290.3 1153.5 290.4 1153.5C290.5 1153.6 290.5 1153.6 290.6 1153.6C290.7 1153.6 290.7 1153.6 290.8 1153.7C290.9 1153.7 290.9 1153.7 291.0 1153.7C291.1 1153.7 291.1 1153.7 291.2 1153.8C291.3 1153.8 291.3 1153.8 291.4 1153.8C291.5 1153.8 291.5 1153.8 291.6 1153.8C291.7 1153.9 291.7 1153.9 291.8 1153.9C291.9 1153.9 291.9 1153.9 292.0 1153.9C292.1 1153.9 292.1 1154.0 292.2 1154.0C292.3 1154.0 292.3 1154.0 292.4 1154.0C292.5 1154.0 292.5 1154.0 292.6 1154.0C292.7 1154.0 292.7 1154.1 292.8 1154.1C292.9 1154.1 292.9 1154.1 293.0 1154.1C293.1 1154.1 293.1 1154.1 293.2 1154.1C293.3 1154.1 293.3 1154.1 293.4 1154.1C293.5 1154.2 293.5 1154.2 293.6 1154.2C293.7 1154.2 293.7 1154.2 293.8 1154.2C293.9 1154.2 293.9 1154.2 294.0 1154.2C294.1 1154.2 294.1 1154.2 294.2 1154.2C294.3 1154.2 294.3 1154.3 294.4 1154.3C294.5 1154.3 294.5 1154.3 294.6 1154.3C294.7 1154.3 294.7 1154.3 294.8 1154.3C294.9 1154.3 294.9 1154.3 295.0 1154.3C295.1 1154.3 295.1 1154.3 295.2 1154.3C295.3 1154.3 295.3 1154.3 295.4 1154.4C295.5 1154.4 295.6 1154.4 295.6 1154.4C295.7 1154.4 295.8 1154.4 295.8 1154.4C295.9 1154.4 296.0 1154.4 296.0 1154.4C296.1 1154.4 296.2 1154.4 296.2 1154.4C296.3 1154.4 296.4 1154.4 296.4 1154.4C296.5 1154.4 296.6 1154.4 296.6 1154.5C296.7 1154.5 296.8 1154.5 296.8 1154.5C296.9 1154.5 297.0 1154.5 297.0 1154.5C297.1 1154.5 297.2 1154.5 297.2 1154.5C297.3 1154.5 297.4 1154.5 297.4 1154.5C297.5 1154.5 297.6 1154.5 297.6 1154.5C297.7 1154.6 297.8 1154.6 297.8 1154.6C297.9 1154.6 298.0 1154.6 298.0 1154.6C298.1 1154.6 298.2 1154.6 298.2 1154.6C298.3 1154.6 298.4 1154.6 298.4 1154.6C298.5 1154.6 298.6 1154.7 298.6 1154.7C298.7 1154.7 298.8 1154.7 298.8 1154.7C298.9 1154.7 299.0 1154.7 299.0 1154.7C299.1 1154.7 299.2 1154.7 299.2 1154.7C299.3 1154.8 299.4 1154.8 299.4 1154.8C299.5 1154.8 299.6 1154.8 299.6 1154.8C299.7 1154.8 299.8 1154.8 299.8 1154.8C299.9 1154.9 300.0 1154.9 300.0 1154.9C300.1 1154.9 300.2 1154.9 300.2 1154.9C300.3 1154.9 300.4 1154.9 300.4 1155.0C300.5 1155.0 300.6 1155.0 300.6 1155.0C300.7 1155.0 300.8 1155.0 300.8 1155.1C300.9 1155.1 301.0 1155.1 301.0 1155.1C301.1 1155.1 301.2 1155.1 301.2 1155.2C301.3 1155.2 301.4 1155.2 301.4 1155.2C301.5 1155.2 301.6 1155.2 301.6 1155.3C301.7 1155.3 301.8 1155.3 301.9 1155.3C301.9 1155.3 302.0 1155.4 302.1 1155.4C302.1 1155.4 302.2 1155.4 302.3 1155.5C302.3 1155.5 302.4 1155.5 302.5 1155.5C302.5 1155.6 302.6 1155.6 302.7 1155.6C304.9 1156.2 307.4 1158.3 309.5 1157.3C313.4 1155.5 315.7 1151.4 318.6 1148.2C322.6 1143.8 326.4 1139.3 330.0 1134.5C333.3 1130.1 336.5 1125.7 339.1 1120.9C341.8 1115.8 343.2 1110.1 345.9 1105.0C346.6 1103.6 348.7 1100.1 349.3 1101.6C351.5 1106.9 350.9 1112.9 351.6 1118.6C352.4 1124.7 352.4 1130.9 353.9 1136.8C354.7 1139.8 355.7 1143.3 358.4 1144.8C361.4 1146.4 365.2 1145.3 368.6 1144.8C373.3 1144.1 377.7 1142.4 382.3 1141.4C386.8 1140.5 391.5 1140.3 395.9 1139.1C400.6 1137.8 404.7 1134.8 409.5 1134.1C412.5 1133.6 415.5 1135.8 418.6 1135.7C423.2 1135.6 427.7 1133.9 432.3 1133.4C435.3 1133.1 438.4 1132.8 441.4 1133.4C443.8 1133.9 445.6 1136.6 448.0 1136.4C451.0 1136.2 453.2 1133.4 456.0 1132.4C458.6 1131.4 461.3 1130.4 464.0 1130.4C466.7 1130.4 469.3 1132.2 472.0 1132.4C474.7 1132.6 477.5 1132.2 480.1 1131.4C482.9 1130.5 485.1 1127.6 488.1 1127.4C491.6 1127.2 494.6 1130.2 498.1 1130.4C501.5 1130.6 504.7 1128.9 508.1 1128.4C512.1 1127.9 516.3 1128.6 520.1 1127.4C523.1 1126.5 525.2 1123.6 528.1 1122.4C531.9 1120.9 536.0 1120.1 540.1 1119.4C543.4 1118.8 547.1 1119.8 550.2 1118.4C554.1 1116.7 556.8 1113.0 560.2 1110.4C563.5 1107.9 566.8 1105.5 570.2 1103.3C573.5 1101.2 576.9 1099.4 580.2 1097.3C583.6 1095.1 587.2 1093.1 590.2 1090.3C593.3 1087.4 596.0 1083.9 598.2 1080.3C601.3 1075.2 603.7 1069.7 606.2 1064.3C609.0 1058.4 611.5 1052.3 614.2 1046.3C616.9 1040.3 619.6 1034.3 622.3 1028.2C624.3 1023.6 625.8 1018.6 628.3 1014.2C629.5 1012.2 631.5 1007.7 633.3 1009.2C636.1 1011.6 634.9 1016.5 635.3 1020.2C635.9 1026.9 635.6 1033.6 636.3 1040.3C636.6 1042.7 635.9 1046.7 638.3 1047.3C640.8 1047.9 642.9 1044.5 644.3 1042.3C647.6 1037.3 650.0 1031.7 652.3 1026.2C655.3 1019.0 657.6 1011.5 660.3 1004.2C663.0 996.9 665.4 989.4 668.3 982.2C670.7 976.1 673.1 969.9 676.3 964.1C679.1 959.1 682.4 954.3 686.3 950.1C690.5 945.6 695.3 941.6 700.4 938.1C704.7 935.2 709.4 932.6 714.4 931.1C717.6 930.1 721.2 930.1 724.4 930.9C726.9 931.5 728.2 934.9 730.7 935.1C733.1 935.3 735.3 933.5 737.1 931.9C740.3 929.1 743.1 925.8 745.6 922.3C748.8 917.9 751.3 913.0 754.2 908.4C757.0 903.8 759.4 898.8 762.7 894.5C765.1 891.3 767.8 888.0 771.3 886.0C773.2 884.9 775.8 885.0 777.7 886.0C780.4 887.3 781.4 891.1 784.1 892.4C785.4 893.1 787.4 892.3 788.4 891.3C791.1 888.6 793.0 885.1 794.8 881.7C798.0 875.8 800.0 869.3 803.3 863.5C805.7 859.3 808.8 855.5 811.9 851.8C815.2 848.0 818.9 844.6 822.5 841.1C826.0 837.8 829.2 834.1 833.2 831.5C836.4 829.4 840.1 828.0 843.9 827.2C847.4 826.5 851.2 828.1 854.6 827.2C857.8 826.3 860.7 824.3 863.1 821.9C867.2 817.8 870.2 812.6 873.8 808.0C878.0 802.6 881.3 796.3 886.6 792.0C889.5 789.6 894.4 791.1 897.3 788.8C901.1 785.8 902.7 780.7 905.9 777.0C910.5 771.7 915.8 767.1 920.8 762.1C925.1 757.8 928.8 752.9 933.6 749.2C936.7 746.8 940.7 745.7 944.3 743.9C947.9 742.1 951.7 740.8 955.0 738.6C959.6 735.5 963.7 731.7 967.8 727.9C972.2 723.8 976.0 719.0 980.6 715.1C983.9 712.3 988.0 710.4 991.3 707.6C995.9 703.7 999.5 698.7 1004.1 694.8C1008.8 690.8 1014.3 687.9 1019.1 684.1C1022.9 681.1 1026.4 677.9 1029.8 674.5C1033.1 671.3 1035.7 667.4 1039.2 664.4C1046.7 658.0 1054.9 652.4 1062.7 646.3C1069.9 640.7 1077.1 635.0 1084.1 629.2C1091.3 623.2 1098.3 617.0 1105.5 611.0C1111.1 606.3 1116.7 601.6 1122.5 597.1C1128.1 592.7 1133.8 588.4 1139.6 584.3C1145.2 580.3 1150.9 576.3 1156.7 572.6C1163.7 568.1 1171.3 564.6 1178.1 559.7C1182.8 556.3 1186.5 551.7 1190.9 548.0C1195.0 544.6 1199.4 541.5 1203.7 538.4C1208.7 534.8 1213.5 531.0 1218.7 527.7C1223.5 524.6 1228.7 522.1 1233.6 519.2C1237.2 517.1 1240.8 515.0 1244.3 512.7C1247.9 510.3 1251.4 507.8 1255.0 505.3C1260.7 501.4 1266.3 497.2 1272.1 493.5C1276.9 490.4 1281.9 487.6 1287.0 485.0C1292.6 482.2 1298.4 479.9 1304.1 477.5C1307.6 476.0 1311.4 475.0 1314.8 473.2C1319.5 470.8 1324.3 468.2 1328.5 464.9C1332.5 461.8 1335.2 457.2 1339.2 454.2C1341.0 452.9 1343.4 452.6 1345.6 452.1C1349.9 451.1 1354.2 450.2 1358.5 449.5C1362.7 448.8 1367.0 448.3 1371.3 447.8C1375.2 447.4 1379.6 448.7 1383.0 446.7C1387.3 444.1 1388.8 438.4 1392.6 435.0C1394.3 433.5 1396.8 433.0 1399.0 432.4C1401.4 431.7 1404.0 430.6 1406.5 431.1C1408.7 431.5 1410.1 433.7 1411.9 435.0C1414.0 436.5 1415.9 438.5 1418.3 439.3C1420.0 439.8 1422.4 440.1 1423.6 438.8C1426.3 436.1 1426.5 431.6 1428.9 428.6C1429.9 427.4 1432.0 426.0 1433.2 426.9C1435.7 428.7 1436.1 432.3 1437.5 435.0C1439.0 437.8 1439.7 441.1 1441.8 443.5C1442.5 444.3 1444.4 444.4 1445.0 443.5C1447.2 440.4 1447.5 436.3 1449.2 432.9C1450.7 429.8 1451.1 423.9 1454.6 423.9C1457.9 423.9 1457.6 429.8 1458.9 432.9C1460.3 436.4 1460.2 440.7 1462.7 443.5C1463.6 444.5 1465.8 442.7 1466.3 441.4C1468.2 436.6 1467.8 431.2 1469.5 426.4C1470.4 423.9 1471.2 418.9 1473.8 419.6C1477.0 420.4 1477.1 425.4 1478.1 428.6C1479.6 433.4 1479.7 438.7 1481.3 443.5C1481.5 444.3 1482.9 445.2 1483.4 444.6C1485.1 442.5 1485.8 439.7 1486.6 437.1C1488.3 431.5 1488.8 425.5 1490.9 420.0C1491.7 417.9 1493.0 414.1 1495.2 414.7C1497.8 415.5 1497.3 419.7 1498.4 422.2C1499.3 424.3 1499.0 427.9 1501.2 428.6C1503.0 429.2 1504.1 426.0 1504.8 424.3C1506.8 419.5 1507.0 414.1 1509.1 409.4C1510.3 406.7 1511.6 403.1 1514.4 402.5C1516.5 402.0 1517.4 405.5 1518.7 407.2C1520.3 409.2 1520.6 412.6 1522.9 413.6C1524.3 414.2 1525.5 411.8 1526.2 410.4C1528.1 406.3 1528.1 401.5 1530.4 397.6C1532.1 394.7 1534.6 391.6 1537.9 390.8C1540.0 390.3 1541.2 393.5 1543.2 394.4C1544.9 395.1 1546.9 396.1 1548.6 395.5C1550.5 394.9 1551.6 392.8 1552.9 391.2C1554.9 388.7 1555.7 385.2 1558.2 383.3C1560.9 381.2 1564.9 381.6 1567.8 379.8C1571.5 377.6 1574.0 373.7 1577.6 371.4C1579.5 370.2 1581.8 369.6 1584.0 369.5C1587.5 369.3 1591.4 372.1 1594.4 370.3C1598.3 367.9 1599.0 362.3 1601.7 358.6C1604.7 354.4 1607.6 350.2 1611.3 346.6C1615.1 342.9 1619.9 340.3 1624.1 337.0C1628.4 333.6 1632.6 330.0 1636.9 326.6C1640.6 323.6 1644.3 320.6 1648.1 317.8C1652.3 314.7 1656.9 312.3 1660.9 308.9C1663.9 306.3 1666.5 303.2 1668.9 300.1C1671.3 297.1 1672.8 293.4 1675.3 290.5C1678.7 286.7 1682.8 283.5 1686.6 280.1C1690.3 276.8 1693.9 273.5 1697.8 270.5C1701.4 267.7 1705.3 265.2 1709.0 262.5C1712.7 259.8 1716.3 257.0 1720.2 254.5C1724.3 251.9 1728.7 249.7 1733.0 247.3C1736.7 245.2 1740.4 242.8 1744.2 240.9C1746.8 239.6 1749.5 238.6 1752.2 237.6C1753.8 237.0 1755.3 236.0 1757.0 236.0C1758.7 236.0 1760.5 236.6 1761.9 237.6C1763.3 238.6 1764.5 240.1 1765.1 241.7C1766.3 244.8 1766.7 248.1 1767.1 251.3C1767.6 255.5 1767.7 259.8 1767.9 264.1C1768.0 266.7 1768.0 269.4 1768.1 272.0" fill="none" stroke="#ee3e3e" stroke-width="6.7" stroke-linejoin="round" stroke-linecap="butt" clip-path="url(#ca)"/>
<path d="M1768.1 270.0L1768.1 1433.0" fill="none" stroke="#ee3e3e" stroke-width="5.7" stroke-linejoin="round" stroke-linecap="butt" clip-path="url(#ca)"/>
<path d="M264.0 1433.0C264.0 1431.7 264.0 1430.4 264.0 1429.1C264.0 1427.7 264.0 1426.4 264.1 1425.1C264.1 1423.8 264.1 1422.5 264.1 1421.2C264.1 1419.9 264.1 1418.6 264.1 1417.2C264.1 1415.9 264.1 1414.6 264.1 1413.3C264.2 1412.0 264.2 1410.7 264.2 1409.4C264.2 1408.1 264.2 1406.7 264.2 1405.4C264.2 1404.1 264.2 1402.8 264.2 1401.5C264.2 1400.2 264.2 1398.9 264.3 1397.6C264.3 1396.3 264.3 1394.9 264.3 1393.6C264.3 1392.3 264.3 1391.0 264.3 1389.7C264.3 1388.4 264.3 1387.1 264.3 1385.8C264.4 1384.4 264.4 1383.1 264.4 1381.8C264.4 1380.5 264.4 1379.2 264.4 1377.9C264.4 1376.6 264.4 1375.3 264.4 1374.0C264.4 1372.6 264.5 1371.3 264.5 1370.0C264.5 1368.7 264.5 1367.4 264.5 1366.1C264.5 1364.8 264.5 1363.5 264.5 1362.1C264.5 1360.8 264.5 1359.5 264.6 1358.2C264.6 1356.9 264.6 1355.6 264.6 1354.3C264.6 1353.0 264.6 1351.7 264.6 1350.4C264.6 1349.0 264.6 1347.7 264.6 1346.4C264.7 1345.1 264.7 1343.8 264.7 1342.5C264.7 1341.2 264.7 1339.9 264.7 1338.6C264.7 1337.2 264.7 1335.9 264.7 1334.6C264.7 1333.3 264.8 1332.0 264.8 1330.7C264.8 1329.4 264.8 1328.1 264.8 1326.8C264.8 1325.5 264.8 1324.1 264.8 1322.8C264.8 1321.5 264.8 1320.2 264.9 1318.9C264.9 1317.6 264.9 1316.3 264.9 1315.0C264.9 1313.7 264.9 1312.4 264.9 1311.0C264.9 1309.7 264.9 1308.4 265.0 1307.1C265.0 1305.8 265.0 1304.5 265.0 1303.2C265.0 1301.9 265.0 1300.6 265.0 1299.3C265.0 1298.0 265.0 1296.6 265.0 1295.3C265.1 1294.0 265.1 1292.7 265.1 1291.4C265.1 1290.1 265.1 1288.8 265.1 1287.5C265.1 1286.2 265.1 1284.9 265.1 1283.6C265.2 1282.3 265.2 1280.9 265.2 1279.6C265.2 1278.3 265.2 1277.0 265.2 1275.7C265.2 1274.4 265.2 1273.1 265.2 1271.8C265.3 1270.5 265.3 1269.2 265.3 1267.9C265.3 1266.6 265.3 1265.2 265.3 1263.9C265.3 1262.6 265.3 1261.3 265.3 1260.0C265.4 1258.7 265.4 1257.4 265.4 1256.1C265.4 1254.8 265.4 1253.5 265.4 1252.2C265.4 1250.9 265.4 1249.6 265.4 1248.3C265.5 1246.9 265.5 1245.6 265.5 1244.3C265.5 1243.0 265.5 1241.7 265.5 1240.4C265.5 1239.1 265.5 1237.8 265.5 1236.5C265.6 1235.2 265.6 1233.9 265.6 1232.6C265.6 1231.3 265.6 1230.0 265.6 1228.7C265.6 1227.4 265.6 1226.0 265.7 1224.7C265.7 1223.4 265.7 1222.1 265.7 1220.8C265.7 1219.5 265.7 1218.2 265.7 1216.9C265.7 1215.6 265.7 1214.3 265.8 1213.0C265.8 1211.7 265.8 1210.4 265.8 1209.1C265.8 1207.8 265.8 1206.5 265.8 1205.2C265.8 1203.9 265.9 1202.5 265.9 1201.2C265.9 1199.9 265.9 1198.6 265.9 1197.3C265.9 1196.0 265.9 1194.7 265.9 1193.4C265.9 1192.1 266.0 1190.8 266.0 1189.5C266.0 1188.2 266.0 1186.9 266.0 1185.6C266.0 1184.3 266.0 1183.0 266.0 1181.7C266.1 1180.4 266.1 1179.1 266.1 1177.8C266.1 1176.5 266.1 1175.2 266.1 1173.9C266.1 1172.6 266.1 1171.3 266.2 1169.9C266.2 1168.6 266.2 1167.3 266.2 1166.0C266.2 1164.7 266.2 1163.4 266.2 1162.1C266.2 1160.8 266.3 1159.5 266.3 1158.2C266.3 1156.9 266.3 1155.6 266.3 1154.3C266.3 1153.0 266.3 1151.7 266.3 1150.4C266.4 1149.1 266.4 1147.8 266.4 1146.5C266.4 1145.2 266.4 1143.9 266.4 1142.6C266.4 1141.3 266.4 1140.0 266.5 1138.7C266.5 1137.4 266.5 1136.1 266.5 1134.8C266.5 1133.5 266.5 1132.2 266.5 1130.9C266.5 1129.6 266.6 1128.3 266.6 1127.0C266.6 1125.7 266.6 1124.4 266.6 1123.1C266.6 1121.8 266.6 1120.5 266.7 1119.2C266.7 1117.9 266.7 1116.6 266.7 1115.3C266.7 1114.0 266.7 1112.7 266.7 1111.4C266.8 1110.1 266.8 1108.8 266.8 1107.5C266.8 1106.2 266.8 1104.9 266.8 1103.6C266.8 1102.3 266.9 1101.0 266.9 1099.8C266.9 1098.5 266.9 1097.2 266.9 1095.9C266.9 1094.6 266.9 1093.3 267.0 1092.0C267.0 1090.7 267.0 1089.4 267.0 1088.1C267.0 1086.8 267.0 1085.5 267.0 1084.3C267.1 1083.0 267.1 1081.7 267.1 1080.4C267.1 1079.1 267.1 1077.8 267.1 1076.5C267.2 1075.2 267.2 1074.0 267.2 1072.7C267.2 1071.4 267.2 1070.1 267.2 1068.8C267.3 1067.6 267.3 1066.3 267.3 1065.0C267.3 1063.7 267.3 1062.4 267.4 1061.2C267.4 1059.9 267.4 1058.6 267.4 1057.3C267.4 1056.1 267.4 1054.8 267.5 1053.5C267.5 1052.2 267.5 1051.0 267.5 1049.7C267.5 1048.4 267.6 1047.2 267.6 1045.9C267.6 1044.6 267.6 1043.4 267.6 1042.1C267.7 1040.8 267.7 1039.6 267.7 1038.3C267.7 1037.0 267.7 1035.8 267.8 1034.5C267.8 1033.3 267.8 1032.0 267.8 1030.8C267.8 1029.5 267.9 1028.3 267.9 1027.0C267.9 1025.8 267.9 1024.5 268.0 1023.3C268.0 1022.0 268.0 1020.8 268.0 1019.5C268.1 1018.3 268.1 1017.0 268.1 1015.8C268.1 1014.6 268.1 1013.3 268.2 1012.1C268.2 1010.9 268.2 1009.6 268.2 1008.4C268.3 1007.2 268.3 1005.9 268.3 1004.7C268.4 1003.5 268.4 1002.3 268.4 1001.1C268.4 999.8 268.5 998.6 268.5 997.4C268.5 996.2 268.5 995.0 268.6 993.8C268.6 992.6 268.6 991.4 268.6 990.2C268.7 989.0 268.7 987.8 268.7 986.6C268.8 985.4 268.8 984.2 268.8 983.0C268.9 981.8 268.9 980.6 268.9 979.4C268.9 978.2 269.0 977.1 269.0 975.9C269.0 974.7 269.1 973.5 269.1 972.3C269.1 971.2 269.2 970.0 269.2 968.8C269.2 967.7 269.3 966.5 269.3 965.3C269.3 964.2 269.3 963.0 269.4 961.8C269.4 960.7 269.4 959.5 269.5 958.4C269.5 957.2 269.5 956.1 269.6 954.9C269.6 953.8 269.7 952.7 269.7 951.6C269.7 950.4 269.8 949.3 269.8 948.2C269.8 947.1 269.9 946.0 269.9 944.9C269.9 943.9 270.0 942.8 270.0 941.7C270.1 940.7 270.1 939.7 270.2 938.6C270.2 937.6 270.2 936.6 270.3 935.6C270.3 934.7 270.4 933.7 270.4 932.8C270.5 931.8 270.5 930.9 270.6 930.0C270.6 929.2 270.7 928.3 270.7 927.5C270.8 926.7 270.8 925.9 270.9 925.1C270.9 924.4 271.0 923.6 271.1 922.9C271.1 922.3 271.2 921.7 271.2 921.0C271.3 920.5 271.3 919.9 271.4 919.4C271.5 919.0 271.5 918.5 271.6 918.1C271.7 917.9 271.6 917.6 271.8 917.5C271.9 917.4 272.0 917.7 272.0 917.8C272.1 918.2 272.1 918.6 272.2 919.0C272.3 919.7 272.3 920.4 272.4 921.1C272.4 922.0 272.5 922.9 272.5 923.8C272.6 924.8 272.6 925.9 272.6 926.9C272.7 928.0 272.7 929.1 272.8 930.2C272.8 931.3 272.8 932.5 272.9 933.6C272.9 934.8 272.9 936.0 272.9 937.2C273.0 938.4 273.0 939.6 273.0 940.8C273.1 942.1 273.1 943.3 273.1 944.5C273.1 945.8 273.1 947.0 273.2 948.3C273.2 949.6 273.2 950.8 273.2 952.1C273.2 953.3 273.3 954.6 273.3 955.9C273.3 957.1 273.3 958.4 273.3 959.7C273.4 961.0 273.4 962.2 273.4 963.5C273.4 964.8 273.4 966.1 273.4 967.4C273.5 968.6 273.5 969.9 273.5 971.2C273.5 972.5 273.5 973.8 273.5 975.1C273.6 976.3 273.6 977.6 273.6 978.9C273.6 980.2 273.6 981.5 273.6 982.8C273.7 984.1 273.7 985.3 273.7 986.6C273.7 987.9 273.7 989.2 273.8 990.5C273.8 991.7 273.8 993.0 273.8 994.3C273.8 995.6 273.8 996.9 273.9 998.1C273.9 999.4 273.9 1000.7 273.9 1001.9C273.9 1003.2 274.0 1004.5 274.0 1005.7C274.0 1007.0 274.0 1008.3 274.0 1009.5C274.1 1010.8 274.1 1012.0 274.1 1013.3C274.1 1014.5 274.2 1015.7 274.2 1017.0C274.2 1018.2 274.2 1019.4 274.3 1020.7C274.3 1021.9 274.3 1023.1 274.3 1024.3C274.4 1025.5 274.4 1026.7 274.4 1028.0C274.4 1029.2 274.4 1030.4 274.5 1031.6C275.2 1045.4 275.6 1059.2 276.6 1073.0C276.8 1076.0 277.6 1079.0 278.2 1082.0C278.7 1084.5 279.3 1087.0 280.0 1089.5C280.7 1091.9 281.3 1094.2 282.2 1096.5C282.9 1098.2 283.5 1100.0 284.5 1101.6C285.8 1103.7 287.1 1106.0 289.1 1107.3C291.1 1108.6 293.6 1109.1 295.9 1109.1C298.2 1109.1 300.6 1108.4 302.7 1107.3C306.0 1105.5 309.0 1103.0 311.8 1100.5C315.8 1096.9 319.9 1093.4 323.2 1089.1C327.5 1083.4 331.2 1077.2 334.5 1070.9C338.0 1064.3 340.7 1057.4 343.6 1050.5C346.1 1044.5 348.0 1038.3 350.5 1032.3C351.5 1030.0 352.5 1023.4 353.9 1025.5C356.4 1029.2 354.8 1034.5 355.0 1039.0C355.5 1050.4 355.4 1061.8 356.1 1073.2C356.5 1080.0 356.9 1086.9 358.4 1093.6C359.3 1097.6 360.7 1101.6 363.0 1105.0C365.0 1107.9 367.8 1110.3 370.9 1111.8C374.4 1113.5 378.4 1113.9 382.3 1114.1C386.8 1114.3 391.4 1113.9 395.9 1113.0C400.6 1112.0 404.8 1109.4 409.5 1108.4C414.0 1107.5 418.6 1107.5 423.2 1107.3C427.7 1107.1 432.4 1108.2 436.8 1107.3C440.1 1106.6 443.2 1104.7 445.9 1102.7C447.4 1101.6 447.4 1098.1 449.3 1098.2C452.1 1098.4 453.2 1103.1 456.0 1103.3C459.0 1103.5 461.0 1099.6 464.0 1099.3C470.0 1098.6 476.2 1101.4 482.1 1100.3C485.9 1099.6 488.3 1095.0 492.1 1094.3C499.3 1092.9 506.8 1093.6 514.1 1094.3C520.2 1094.9 526.0 1097.3 532.1 1098.3C538.1 1099.3 544.2 1099.7 550.2 1100.3C556.9 1101.0 563.5 1102.0 570.2 1102.3C576.9 1102.6 583.6 1103.1 590.2 1102.3C595.0 1101.7 599.4 1099.2 604.2 1098.3C608.1 1097.5 612.3 1098.4 616.2 1097.3C620.5 1096.0 624.1 1093.0 628.3 1091.3C632.2 1089.7 637.0 1089.9 640.3 1087.3C643.4 1084.9 644.0 1080.4 646.3 1077.3C648.7 1074.1 652.1 1071.6 654.3 1068.3C656.8 1064.6 658.6 1060.4 660.3 1056.3C662.2 1051.7 663.3 1046.8 665.3 1042.3C666.4 1039.9 668.6 1033.0 669.4 1035.5C672.2 1044.1 671.1 1053.6 672.0 1062.6" fill="none" stroke="#000" stroke-width="6.7" stroke-linejoin="round" stroke-linecap="butt" clip-path="url(#ca)"/>
<path d="M672.0 1062.6C672.7 1071.1 673.5 1079.7 674.2 1088.2C674.9 1096.7 675.7 1105.2 676.2 1113.7C676.7 1122.2 677.0 1130.8 677.1 1139.3C677.3 1152.9 676.6 1166.6 677.1 1180.2C677.2 1183.6 678.6 1187.0 678.8 1190.4C679.4 1198.9 679.5 1207.5 679.7 1216.0C679.9 1230.2 679.7 1244.4 680.0 1258.6C680.2 1267.1 680.7 1275.7 681.0 1284.2C681.3 1292.7 681.8 1301.2 681.9 1309.7C682.1 1350.8 681.9 1391.9 681.9 1433.0" fill="none" stroke="#000" stroke-width="5.7" stroke-linejoin="round" stroke-linecap="butt" clip-path="url(#ca)"/>
<text font-family="Liberation Serif, Times New Roman, serif" stroke="#000" stroke-width="0.2" font-size="72.2" text-anchor="middle" x="1124" y="1618.5">Strain (%)</text>
<text font-family="Liberation Serif, Times New Roman, serif" stroke="#000" stroke-width="0.2" font-size="72.2" text-anchor="middle" transform="translate(97 710) rotate(-90)">Stress (MPa)</text>
<text font-family="Liberation Serif, Times New Roman, serif" stroke="#000" stroke-width="0.2" font-size="80" x="334" y="160.5">(a)</text>
<line x1="1145" y1="145.3" x2="1304.5" y2="145.3" stroke="#000" stroke-width="6.0" stroke-linecap="round"/><text font-family="Liberation Serif, Times New Roman, serif" stroke="#000" stroke-width="0.2" font-size="72.2" x="1324" y="169.10000000000002">PHS</text><line x1="1145" y1="233.4" x2="1304.5" y2="233.4" stroke="#5c6ef8" stroke-width="6.0" stroke-linecap="round"/><text font-family="Liberation Serif, Times New Roman, serif" stroke="#000" stroke-width="0.2" font-size="72.2" x="1324" y="257.2">PHSF5</text><line x1="1145" y1="321.9" x2="1304.5" y2="321.9" stroke="#ee3e3e" stroke-width="6.0" stroke-linecap="round"/><text font-family="Liberation Serif, Times New Roman, serif" stroke="#000" stroke-width="0.2" font-size="72.2" x="1324" y="345.7">PHSF10</text>
<rect x="267" y="1821" width="1731" height="1383.5" fill="none" stroke="#000" stroke-width="8"/>
<g stroke="#000" stroke-width="8"><line x1="844.0" y1="3204.5" x2="844.0" y2="3176.5"/><line x1="1421.0" y1="3204.5" x2="1421.0" y2="3176.5"/><line x1="555.5" y1="3204.5" x2="555.5" y2="3190.5"/><line x1="1132.5" y1="3204.5" x2="1132.5" y2="3190.5"/><line x1="1709.5" y1="3204.5" x2="1709.5" y2="3190.5"/><line x1="267" y1="2858.6" x2="295" y2="2858.6"/><line x1="267" y1="2512.8" x2="295" y2="2512.8"/><line x1="267" y1="2166.9" x2="295" y2="2166.9"/><line x1="267" y1="3031.6" x2="281" y2="3031.6"/><line x1="267" y1="2685.7" x2="281" y2="2685.7"/><line x1="267" y1="2339.8" x2="281" y2="2339.8"/><line x1="267" y1="1993.9" x2="281" y2="1993.9"/></g>
<g font-family="Liberation Serif, Times New Roman, serif" stroke="#000" stroke-width="0.2" font-size="59" fill="#000"><text x="237.5" y="3221.5" text-anchor="end">0</text><text x="237.5" y="2875.6" text-anchor="end">5</text><text x="237.5" y="2529.8" text-anchor="end">10</text><text x="237.5" y="2183.9" text-anchor="end">15</text><text x="237.5" y="1838.0" text-anchor="end">20</text><text x="267.5" y="3277.1" text-anchor="middle">0</text><text x="844.5" y="3277.1" text-anchor="middle">15</text><text x="1421.5" y="3277.1" text-anchor="middle">30</text><text x="1998.5" y="3277.1" text-anchor="middle">45</text></g>
<path d="M267.0 3204.5C267.6 3201.6 268.2 3198.6 268.8 3195.7C269.4 3192.7 270.0 3189.8 270.5 3186.8C271.1 3183.9 271.7 3181.0 272.3 3178.0C272.9 3175.1 273.4 3172.1 274.0 3169.2C274.6 3166.2 275.2 3163.3 275.7 3160.3C276.3 3157.4 276.9 3154.4 277.4 3151.5C278.0 3148.6 278.6 3145.6 279.1 3142.7C279.7 3139.7 280.3 3136.8 280.8 3133.8C281.4 3130.9 281.9 3127.9 282.5 3125.0C283.0 3122.0 283.6 3119.1 284.1 3116.1C284.7 3113.2 285.2 3110.2 285.8 3107.3C286.3 3104.3 286.9 3101.4 287.4 3098.4C288.0 3095.5 288.5 3092.5 289.0 3089.6C289.6 3086.6 290.1 3083.7 290.7 3080.7C291.2 3077.7 291.7 3074.8 292.3 3071.8C292.8 3068.9 293.3 3065.9 293.9 3063.0C294.4 3060.0 294.9 3057.1 295.4 3054.1C296.0 3051.2 296.5 3048.2 297.0 3045.3C297.6 3042.3 298.1 3039.3 298.6 3036.4C299.1 3033.4 299.7 3030.5 300.2 3027.5C300.7 3024.6 301.2 3021.6 301.7 3018.7C302.3 3015.7 302.8 3012.7 303.3 3009.8C303.8 3006.8 304.3 3003.9 304.9 3000.9C305.4 2998.0 305.9 2995.0 306.4 2992.1C306.9 2989.1 307.4 2986.1 308.0 2983.2C308.5 2980.2 309.0 2977.3 309.5 2974.3C310.0 2971.4 310.5 2968.4 311.0 2965.4C311.6 2962.5 312.1 2959.5 312.6 2956.6C313.1 2953.6 313.6 2950.7 314.1 2947.7C314.6 2944.8 315.2 2941.8 315.7 2938.8C316.2 2935.9 316.7 2932.9 317.2 2930.0C317.7 2927.0 318.2 2924.1 318.8 2921.1C319.3 2918.1 319.8 2915.2 320.3 2912.2C320.8 2909.3 321.3 2906.3 321.8 2903.4C322.4 2900.4 322.9 2897.4 323.4 2894.5C323.9 2891.5 324.4 2888.6 324.9 2885.6C325.5 2882.7 326.0 2879.7 326.5 2876.8C327.0 2873.8 327.5 2870.8 328.1 2867.9C328.6 2864.9 329.1 2862.0 329.6 2859.0C330.1 2856.1 330.7 2853.1 331.2 2850.2C331.7 2847.2 332.2 2844.2 332.8 2841.3C333.3 2838.3 333.8 2835.4 334.4 2832.4C334.9 2829.5 335.4 2826.5 335.9 2823.6C336.5 2820.6 337.0 2817.7 337.5 2814.7C338.1 2811.8 338.6 2808.8 339.1 2805.8C339.7 2802.9 340.2 2799.9 340.8 2797.0C341.3 2794.0 341.8 2791.1 342.4 2788.1C342.9 2785.2 343.5 2782.2 344.0 2779.3C344.6 2776.3 345.1 2773.4 345.7 2770.4C346.2 2767.5 346.8 2764.5 347.3 2761.6C347.9 2758.6 348.4 2755.7 349.0 2752.7C349.5 2749.8 350.1 2746.8 350.6 2743.9C351.2 2740.9 351.8 2738.0 352.3 2735.0C352.9 2732.1 353.5 2729.1 354.0 2726.2C354.6 2723.3 355.2 2720.3 355.8 2717.4C356.3 2714.4 356.9 2711.5 357.5 2708.5C358.1 2705.6 358.6 2702.6 359.2 2699.7C359.8 2696.8 360.4 2693.8 361.0 2690.9C361.6 2687.9 362.2 2685.0 362.8 2682.0C363.4 2679.1 364.0 2676.2 364.6 2673.2C365.2 2670.3 365.8 2667.3 366.4 2664.4C367.0 2661.5 367.6 2658.5 368.2 2655.6C368.8 2652.6 369.4 2649.7 370.1 2646.8C370.7 2643.8 371.3 2640.9 371.9 2638.0C372.5 2635.0 373.2 2632.1 373.8 2629.2C374.4 2626.2 375.1 2623.3 375.7 2620.4C376.3 2617.4 377.0 2614.5 377.6 2611.6C378.3 2608.6 378.9 2605.7 379.6 2602.8C380.2 2599.8 380.9 2596.9 381.5 2594.0C382.2 2591.1 382.9 2588.1 383.5 2585.2C384.2 2582.3 384.9 2579.4 385.5 2576.4C386.2 2573.5 386.9 2570.6 387.6 2567.7C388.3 2564.7 389.0 2561.8 389.6 2558.9C390.3 2556.0 391.0 2553.1 391.7 2550.1C392.4 2547.2 393.1 2544.3 393.8 2541.4C394.5 2538.5 395.3 2535.6 396.0 2532.6C396.7 2529.7 397.4 2526.8 398.1 2523.9C398.9 2521.0 399.6 2518.1 400.3 2515.2C401.0 2512.3 401.8 2509.4 402.5 2506.4C403.3 2503.5 404.0 2500.6 404.8 2497.7C405.5 2494.8 406.3 2491.9 407.0 2489.0C407.8 2486.1 408.6 2483.2 409.3 2480.3C410.1 2477.4 410.9 2474.5 411.7 2471.6C412.4 2468.7 413.2 2465.8 414.0 2462.9C414.8 2460.0 415.6 2457.1 416.4 2454.2C417.2 2451.3 418.0 2448.5 418.8 2445.6C419.6 2442.7 420.4 2439.8 421.3 2436.9C422.1 2434.0 422.9 2431.1 423.7 2428.2C424.6 2425.4 425.4 2422.5 426.2 2419.6C427.1 2416.7 427.9 2413.8 428.8 2411.0C429.6 2408.1 430.5 2405.2 431.4 2402.3C432.2 2399.5 433.1 2396.6 434.0 2393.7C434.9 2390.8 435.7 2388.0 436.6 2385.1C437.5 2382.2 438.4 2379.4 439.3 2376.5C440.2 2373.7 441.1 2370.8 442.0 2367.9C442.9 2365.1 443.8 2362.2 444.8 2359.4C445.7 2356.5 446.6 2353.6 447.5 2350.8C448.5 2347.9 449.4 2345.1 450.4 2342.2C451.3 2339.4 452.3 2336.6 453.2 2333.7C454.2 2330.9 455.1 2328.0 456.1 2325.2C457.1 2322.3 458.1 2319.5 459.0 2316.7C460.0 2313.8 461.0 2311.0 462.0 2308.2C463.0 2305.3 464.0 2302.5 465.0 2299.7C466.0 2296.9 467.0 2294.0 468.1 2291.2C469.1 2288.4 470.1 2285.6 471.2 2282.8C472.2 2280.0 473.3 2277.1 474.3 2274.3C475.4 2271.5 476.5 2268.7 477.6 2265.9C478.7 2263.1 479.8 2260.4 480.9 2257.6C482.0 2254.8 483.1 2252.0 484.3 2249.2C485.4 2246.5 486.6 2243.7 487.8 2240.9C489.0 2238.2 490.2 2235.4 491.4 2232.7C492.6 2229.9 493.8 2227.2 495.1 2224.5C496.3 2221.7 497.6 2219.0 498.9 2216.3C500.2 2213.6 501.5 2210.9 502.8 2208.2C504.1 2205.5 505.5 2202.8 506.9 2200.2C508.2 2197.5 509.6 2194.8 511.0 2192.2C512.5 2189.6 513.9 2186.9 515.4 2184.3C516.8 2181.7 518.3 2179.1 519.8 2176.5C521.4 2173.9 522.9 2171.3 524.5 2168.8C526.1 2166.2 527.6 2163.7 529.3 2161.2C530.9 2158.6 532.6 2156.1 534.2 2153.6C535.9 2151.2 537.6 2148.7 539.4 2146.2C541.1 2143.8 542.9 2141.4 544.7 2139.0C546.5 2136.6 548.3 2134.2 550.2 2131.8C552.0 2129.5 553.9 2127.2 555.8 2124.8C557.8 2122.5 559.7 2120.3 561.7 2118.0C563.7 2115.8 565.7 2113.5 567.7 2111.3C569.8 2109.1 571.9 2107.0 574.0 2104.8C576.1 2102.7 578.2 2100.6 580.4 2098.5C582.6 2096.5 584.8 2094.4 587.0 2092.4C589.2 2090.4 591.5 2088.4 593.8 2086.5C596.1 2084.6 598.4 2082.7 600.7 2080.8C603.1 2078.9 605.5 2077.1 607.9 2075.3C610.3 2073.5 612.7 2071.8 615.2 2070.1C617.7 2068.4 620.2 2066.7 622.7 2065.1C625.2 2063.5 627.8 2061.9 630.4 2060.4C633.0 2058.8 635.6 2057.4 638.2 2056.0C640.9 2054.5 643.5 2053.2 646.3 2051.9C649.0 2050.6 651.7 2049.4 654.5 2048.2C657.2 2047.0 660.0 2045.9 662.8 2044.9C665.7 2043.9 668.5 2042.9 671.4 2042.0C674.2 2041.1 677.1 2040.3 680.0 2039.6C683.0 2038.9 685.9 2038.3 688.9 2037.8C691.8 2037.2 694.8 2036.8 697.8 2036.5C700.7 2036.1 703.7 2035.9 706.7 2035.8C709.7 2035.7 712.7 2035.6 715.7 2035.7C718.7 2035.8 721.7 2036.0 724.7 2036.3C727.7 2036.7 730.7 2037.1 733.6 2037.6C736.6 2038.1 739.5 2038.7 742.4 2039.5C745.4 2040.2 748.2 2041.0 751.1 2041.9C754.0 2042.8 756.8 2043.8 759.6 2044.8C762.4 2045.9 765.2 2047.1 767.9 2048.3C770.7 2049.5 773.4 2050.8 776.0 2052.2C778.7 2053.6 781.3 2055.1 783.9 2056.6C786.5 2058.2 789.0 2059.8 791.5 2061.4C794.0 2063.1 796.4 2064.9 798.8 2066.7C801.2 2068.5 803.5 2070.4 805.8 2072.3C808.1 2074.3 810.3 2076.3 812.5 2078.4C814.6 2080.5 816.7 2082.6 818.8 2084.8C820.8 2087.0 822.8 2089.3 824.7 2091.6C826.6 2093.9 828.5 2096.2 830.3 2098.6C832.1 2101.0 833.8 2103.5 835.5 2106.0C837.2 2108.4 838.9 2111.0 840.5 2113.5C842.1 2116.0 843.6 2118.6 845.1 2121.2C846.6 2123.8 848.1 2126.4 849.5 2129.1C850.9 2131.7 852.3 2134.4 853.6 2137.1C855.0 2139.7 856.3 2142.4 857.6 2145.1C858.9 2147.9 860.1 2150.6 861.4 2153.3C862.6 2156.0 863.8 2158.8 865.0 2161.5C866.2 2164.3 867.4 2167.0 868.6 2169.8C869.7 2172.6 870.9 2175.4 872.0 2178.1C873.1 2180.9 874.2 2183.7 875.3 2186.5C876.4 2189.3 877.5 2192.1 878.5 2194.9C879.6 2197.7 880.6 2200.6 881.6 2203.4C882.6 2206.2 883.6 2209.0 884.6 2211.9C885.6 2214.7 886.6 2217.5 887.5 2220.4C888.5 2223.2 889.4 2226.1 890.3 2229.0C891.2 2231.8 892.1 2234.7 893.0 2237.5C893.9 2240.4 894.7 2243.3 895.6 2246.2C896.4 2249.1 897.2 2251.9 898.1 2254.8C898.9 2257.7 899.7 2260.6 900.4 2263.5C901.2 2266.4 902.0 2269.3 902.7 2272.2C903.5 2275.1 904.2 2278.0 904.9 2280.9C905.7 2283.9 906.4 2286.8 907.1 2289.7C907.8 2292.6 908.4 2295.5 909.1 2298.5C909.8 2301.4 910.4 2304.3 911.1 2307.2C911.8 2310.2 912.4 2313.1 913.1 2316.0C913.7 2318.9 914.4 2321.9 915.1 2324.8C915.7 2327.7 916.4 2330.6 917.1 2333.6C917.8 2336.5 918.5 2339.4 919.3 2342.3C920.0 2345.2 920.7 2348.1 921.5 2351.0C922.3 2353.9 923.1 2356.8 923.9 2359.7C924.7 2362.6 925.6 2365.5 926.5 2368.3C927.3 2371.2 928.3 2374.1 929.2 2376.9C930.2 2379.8 931.2 2382.6 932.2 2385.4C933.2 2388.2 934.3 2391.0 935.4 2393.8C936.5 2396.6 937.6 2399.4 938.9 2402.1C940.2 2404.8 941.5 2407.6 943.0 2410.1C944.6 2412.6 946.3 2415.2 948.3 2417.4C950.4 2419.5 952.7 2421.5 955.4 2422.9C958.0 2424.2 961.0 2424.9 964.0 2425.4C966.9 2425.9 970.0 2425.7 973.0 2425.6C976.0 2425.5 979.0 2425.1 981.9 2424.8C984.9 2424.5 987.9 2424.1 990.9 2423.7C993.8 2423.3 996.8 2422.8 999.8 2422.3C1002.7 2421.9 1005.7 2421.4 1008.7 2420.9C1011.6 2420.4 1014.6 2419.8 1017.5 2419.3C1020.5 2418.8 1023.4 2418.3 1026.4 2417.8C1029.4 2417.3 1032.3 2416.8 1035.3 2416.4C1038.3 2415.9 1041.2 2415.5 1044.2 2415.1C1047.2 2414.8 1050.2 2414.4 1053.2 2414.2C1056.1 2413.9 1059.1 2413.7 1062.1 2413.5C1065.1 2413.3 1068.1 2413.2 1071.1 2413.1C1074.1 2413.0 1077.1 2412.9 1080.1 2412.9C1083.1 2412.9 1086.1 2412.9 1089.1 2412.9C1092.1 2412.9 1095.1 2413.0 1098.1 2413.1C1101.1 2413.1 1104.1 2413.2 1107.1 2413.3C1110.1 2413.4 1113.1 2413.6 1116.1 2413.7C1119.1 2413.8 1122.1 2413.9 1125.1 2414.0C1128.1 2414.1 1131.1 2414.3 1134.1 2414.4C1137.1 2414.5 1140.1 2414.6 1143.1 2414.7C1146.1 2414.7 1149.1 2414.8 1152.1 2414.9C1155.1 2414.9 1158.1 2414.9 1161.1 2415.0C1164.1 2415.0 1167.1 2415.0 1170.1 2415.0C1173.1 2415.0 1176.1 2414.9 1179.1 2414.9C1182.1 2414.9 1185.1 2414.8 1188.1 2414.8C1191.1 2414.7 1194.1 2414.7 1197.1 2414.6C1200.1 2414.5 1203.1 2414.4 1206.1 2414.3C1209.1 2414.3 1212.1 2414.2 1215.1 2414.1C1218.1 2414.0 1221.1 2413.9 1224.1 2413.7C1227.1 2413.6 1230.1 2413.5 1233.1 2413.4C1236.1 2413.3 1239.1 2413.2 1242.1 2413.1C1245.1 2413.0 1248.1 2412.9 1251.1 2412.7C1254.1 2412.6 1257.1 2412.5 1260.1 2412.4C1263.1 2412.3 1266.1 2412.2 1269.1 2412.1C1272.1 2412.0 1275.1 2411.9 1278.1 2411.8C1281.1 2411.7 1284.1 2411.6 1287.1 2411.5C1290.1 2411.4 1293.1 2411.3 1296.1 2411.3C1299.1 2411.2 1302.1 2411.1 1305.1 2411.0C1308.1 2410.9 1311.1 2410.9 1314.1 2410.8C1317.1 2410.7 1320.1 2410.6 1323.1 2410.6C1326.1 2410.5 1329.1 2410.5 1332.1 2410.4C1335.1 2410.3 1338.1 2410.3 1341.1 2410.2C1344.1 2410.2 1347.1 2410.1 1350.1 2410.1C1353.1 2410.1 1356.1 2410.0 1359.1 2410.0C1362.1 2409.9 1365.1 2409.9 1368.1 2409.9C1371.1 2409.9 1374.1 2409.8 1377.1 2409.8C1380.1 2409.8 1383.1 2409.8 1386.1 2409.8C1389.1 2409.8 1392.1 2409.8 1395.1 2409.8C1398.1 2409.8 1401.1 2409.8 1404.1 2409.8C1407.1 2409.8 1410.1 2409.8 1413.1 2409.9C1416.1 2409.9 1419.1 2409.9 1422.1 2410.0C1425.1 2410.0 1428.1 2410.0 1431.1 2410.1C1434.1 2410.1 1437.1 2410.2 1440.1 2410.2C1443.1 2410.3 1446.1 2410.3 1449.1 2410.4C1452.1 2410.5 1455.1 2410.5 1458.1 2410.6C1461.1 2410.7 1464.1 2410.8 1467.1 2410.9C1470.1 2411.0 1473.1 2411.1 1476.1 2411.2C1479.1 2411.3 1482.1 2411.4 1485.1 2411.5C1488.1 2411.6 1491.1 2411.7 1494.1 2411.9C1497.1 2412.0 1500.1 2412.1 1503.1 2412.3C1506.1 2412.4 1509.1 2412.6 1512.1 2412.7C1515.1 2412.9 1518.1 2413.1 1521.1 2413.2C1524.1 2413.4 1527.1 2413.6 1530.1 2413.8C1533.1 2414.0 1536.1 2414.1 1539.1 2414.3C1542.1 2414.5 1545.1 2414.7 1548.1 2415.0C1551.1 2415.2 1554.1 2415.4 1557.0 2415.6C1560.0 2415.8 1563.0 2416.0 1566.0 2416.2C1569.0 2416.5 1572.0 2416.7 1575.0 2416.9C1578.0 2417.1 1581.0 2417.3 1584.0 2417.5C1587.0 2417.8 1590.0 2418.0 1593.0 2418.2C1596.0 2418.4 1599.0 2418.6 1601.9 2418.8C1604.9 2419.0 1607.9 2419.2 1610.9 2419.3C1613.9 2419.5 1616.9 2419.7 1619.9 2419.9C1622.9 2420.0 1625.9 2420.2 1628.9 2420.3C1631.9 2420.4 1634.9 2420.6 1637.9 2420.7C1640.9 2420.8 1643.9 2420.9 1646.9 2421.0C1649.9 2421.1 1652.9 2421.2 1655.9 2421.2C1658.9 2421.3 1661.9 2421.3 1664.9 2421.4C1667.9 2421.4 1670.9 2421.5 1673.9 2421.5C1676.9 2421.5 1679.9 2421.5 1682.9 2421.5C1685.9 2421.5 1688.9 2421.5 1691.9 2421.5C1694.9 2421.5 1697.9 2421.5 1700.9 2421.4C1703.9 2421.4 1706.9 2421.4 1709.9 2421.3C1712.9 2421.3 1715.9 2421.2 1718.9 2421.2C1721.9 2421.1 1724.9 2421.1 1727.9 2421.0C1730.9 2421.0 1733.9 2420.9 1736.9 2420.9C1739.9 2420.8 1742.9 2420.7 1745.9 2420.7C1748.9 2420.6 1751.9 2420.6 1754.9 2420.5C1757.9 2420.4 1760.9 2420.4 1763.9 2420.3C1766.9 2420.3 1769.9 2420.2 1772.9 2420.2C1775.9 2420.1 1778.9 2420.1 1781.9 2420.0C1784.9 2420.0 1787.9 2419.9 1790.9 2419.9C1793.9 2419.9 1796.9 2419.8 1799.9 2419.8C1802.9 2419.8 1805.9 2419.8 1808.9 2419.8C1811.9 2419.8 1814.9 2419.7 1817.9 2419.7C1820.9 2419.7 1823.9 2419.8 1826.9 2419.8C1830.0 2419.8 1833.0 2419.8 1836.0 2419.8C1839.0 2419.8 1842.0 2419.8 1845.0 2419.9C1848.0 2419.9 1851.0 2419.9 1854.0 2419.9C1857.0 2420.0 1860.0 2420.0 1863.0 2420.0C1866.0 2420.1 1869.0 2420.1 1872.0 2420.1C1875.0 2420.2 1878.0 2420.2 1881.0 2420.2C1884.0 2420.3 1887.0 2420.3 1890.0 2420.3C1893.0 2420.4 1896.0 2420.4 1899.0 2420.5C1902.0 2420.5 1905.0 2420.5 1908.0 2420.6C1911.0 2420.6 1914.0 2420.7 1917.0 2420.7C1920.0 2420.7 1923.0 2420.8 1926.0 2420.8C1929.0 2420.8 1932.0 2420.8 1935.0 2420.9C1938.0 2420.9 1941.0 2420.9 1944.0 2420.9C1947.0 2421.0 1950.0 2421.0 1953.0 2421.0C1956.0 2421.0 1959.0 2421.0 1962.0 2421.0C1965.0 2421.0 1968.0 2421.0 1971.0 2421.0C1974.0 2421.0 1977.0 2421.0 1980.0 2421.0C1983.0 2421.0 1986.0 2420.9 1989.0 2420.9C1992.0 2420.9 1995.0 2420.8 1998.0 2420.8" fill="none" stroke="#5c6ef8" stroke-width="7.0" stroke-linejoin="round" stroke-linecap="butt" clip-path="url(#cb)"/>
<path d="M267.0 3204.5C267.7 3201.6 268.5 3198.7 269.2 3195.8C270.0 3192.9 270.7 3190.0 271.4 3187.0C272.1 3184.1 272.9 3181.2 273.6 3178.3C274.3 3175.4 274.9 3172.5 275.6 3169.5C276.3 3166.6 277.0 3163.7 277.7 3160.8C278.3 3157.8 279.0 3154.9 279.7 3152.0C280.3 3149.0 281.0 3146.1 281.6 3143.2C282.2 3140.3 282.9 3137.3 283.5 3134.4C284.1 3131.4 284.7 3128.5 285.4 3125.6C286.0 3122.6 286.6 3119.7 287.2 3116.8C287.8 3113.8 288.4 3110.9 289.0 3107.9C289.6 3105.0 290.2 3102.0 290.7 3099.1C291.3 3096.2 291.9 3093.2 292.5 3090.3C293.1 3087.3 293.6 3084.4 294.2 3081.4C294.8 3078.5 295.3 3075.5 295.9 3072.6C296.4 3069.6 297.0 3066.7 297.5 3063.7C298.1 3060.8 298.6 3057.8 299.2 3054.9C299.7 3051.9 300.3 3049.0 300.8 3046.0C301.4 3043.1 301.9 3040.1 302.4 3037.2C303.0 3034.2 303.5 3031.3 304.0 3028.3C304.6 3025.3 305.1 3022.4 305.6 3019.4C306.2 3016.5 306.7 3013.5 307.2 3010.6C307.8 3007.6 308.3 3004.7 308.8 3001.7C309.3 2998.8 309.9 2995.8 310.4 2992.9C310.9 2989.9 311.5 2986.9 312.0 2984.0C312.5 2981.0 313.1 2978.1 313.6 2975.1C314.1 2972.2 314.7 2969.2 315.2 2966.3C315.7 2963.3 316.3 2960.4 316.8 2957.4C317.3 2954.5 317.9 2951.5 318.4 2948.5C319.0 2945.6 319.5 2942.6 320.1 2939.7C320.6 2936.7 321.2 2933.8 321.7 2930.8C322.3 2927.9 322.8 2924.9 323.4 2922.0C323.9 2919.0 324.5 2916.1 325.1 2913.1C325.6 2910.2 326.2 2907.3 326.8 2904.3C327.4 2901.4 328.0 2898.4 328.5 2895.5C329.1 2892.5 329.7 2889.6 330.3 2886.6C330.9 2883.7 331.5 2880.8 332.1 2877.8C332.7 2874.9 333.3 2871.9 334.0 2869.0C334.6 2866.1 335.2 2863.1 335.8 2860.2C336.5 2857.3 337.1 2854.3 337.8 2851.4C338.4 2848.5 339.1 2845.5 339.7 2842.6C340.4 2839.7 341.0 2836.8 341.7 2833.8C342.4 2830.9 343.1 2828.0 343.7 2825.1C344.4 2822.1 345.1 2819.2 345.8 2816.3C346.5 2813.4 347.2 2810.5 347.9 2807.5C348.6 2804.6 349.3 2801.7 350.0 2798.8C350.7 2795.9 351.4 2793.0 352.1 2790.0C352.9 2787.1 353.6 2784.2 354.3 2781.3C355.0 2778.4 355.8 2775.5 356.5 2772.6C357.2 2769.7 358.0 2766.7 358.7 2763.8C359.5 2760.9 360.2 2758.0 360.9 2755.1C361.7 2752.2 362.4 2749.3 363.2 2746.4C363.9 2743.5 364.7 2740.6 365.4 2737.7C366.2 2734.8 367.0 2731.9 367.7 2729.0C368.5 2726.1 369.2 2723.2 370.0 2720.2C370.8 2717.3 371.5 2714.4 372.3 2711.5C373.1 2708.6 373.8 2705.7 374.6 2702.8C375.4 2699.9 376.1 2697.0 376.9 2694.1C377.7 2691.2 378.4 2688.3 379.2 2685.4C380.0 2682.5 380.7 2679.6 381.5 2676.7C382.3 2673.8 383.0 2670.9 383.8 2668.0C384.6 2665.1 385.3 2662.2 386.1 2659.3C386.9 2656.4 387.6 2653.5 388.4 2650.6C389.2 2647.7 389.9 2644.8 390.7 2641.9C391.4 2639.0 392.2 2636.1 393.0 2633.2C393.7 2630.3 394.5 2627.4 395.3 2624.5C396.1 2621.6 396.8 2618.7 397.6 2615.8C398.4 2612.9 399.2 2610.0 400.0 2607.1C400.7 2604.2 401.5 2601.3 402.3 2598.4C403.1 2595.5 404.0 2592.6 404.8 2589.7C405.6 2586.8 406.4 2584.0 407.3 2581.1C408.1 2578.2 408.9 2575.3 409.8 2572.4C410.7 2569.6 411.5 2566.7 412.4 2563.8C413.3 2561.0 414.2 2558.1 415.1 2555.2C416.0 2552.4 416.9 2549.5 417.9 2546.7C418.8 2543.8 419.8 2541.0 420.8 2538.1C421.7 2535.3 422.7 2532.5 423.7 2529.6C424.7 2526.8 425.8 2524.0 426.8 2521.2C427.9 2518.4 428.9 2515.6 430.0 2512.8C431.1 2510.0 432.2 2507.2 433.3 2504.4C434.5 2501.6 435.6 2498.8 436.8 2496.1C438.0 2493.3 439.2 2490.6 440.4 2487.8C441.6 2485.1 442.9 2482.4 444.2 2479.6C445.4 2476.9 446.7 2474.2 448.1 2471.5C449.4 2468.8 450.7 2466.1 452.1 2463.5C453.5 2460.8 454.9 2458.2 456.3 2455.5C457.8 2452.9 459.2 2450.3 460.7 2447.7C462.2 2445.1 463.7 2442.5 465.3 2439.9C466.8 2437.3 468.4 2434.8 470.0 2432.2C471.6 2429.7 473.2 2427.1 474.8 2424.6C476.5 2422.1 478.2 2419.6 479.9 2417.2C481.6 2414.7 483.3 2412.3 485.1 2409.8C486.8 2407.4 488.6 2405.0 490.5 2402.6C492.3 2400.2 494.1 2397.8 496.0 2395.5C497.9 2393.2 499.8 2390.8 501.7 2388.5C503.6 2386.3 505.6 2384.0 507.6 2381.7C509.6 2379.5 511.6 2377.3 513.7 2375.1C515.7 2372.9 517.8 2370.7 519.9 2368.6C522.0 2366.4 524.1 2364.3 526.3 2362.2C528.4 2360.1 530.6 2358.1 532.8 2356.1C535.1 2354.0 537.3 2352.1 539.6 2350.1C541.9 2348.1 544.2 2346.2 546.5 2344.3C548.8 2342.4 551.2 2340.5 553.5 2338.7C555.9 2336.9 558.3 2335.1 560.8 2333.3C563.2 2331.6 565.7 2329.9 568.1 2328.2C570.6 2326.5 573.1 2324.8 575.7 2323.2C578.2 2321.6 580.8 2320.1 583.3 2318.5C585.9 2317.0 588.5 2315.5 591.2 2314.1C593.8 2312.6 596.5 2311.2 599.1 2309.9C601.8 2308.6 604.5 2307.2 607.3 2306.0C610.0 2304.8 612.7 2303.6 615.5 2302.4C618.3 2301.3 621.1 2300.2 623.9 2299.2C626.7 2298.1 629.6 2297.2 632.4 2296.3C635.3 2295.3 638.2 2294.5 641.1 2293.7C644.0 2292.9 646.9 2292.2 649.8 2291.6C652.8 2291.0 655.7 2290.4 658.7 2289.9C661.6 2289.4 664.6 2289.0 667.6 2288.7C670.6 2288.3 673.6 2288.1 676.6 2287.9C679.6 2287.7 682.6 2287.7 685.6 2287.7C688.6 2287.7 691.6 2287.8 694.6 2287.9C697.6 2288.1 700.5 2288.4 703.5 2288.7C706.5 2289.1 709.5 2289.5 712.4 2290.0C715.4 2290.6 718.3 2291.2 721.3 2291.8C724.2 2292.5 727.1 2293.3 730.0 2294.1C732.9 2294.9 735.7 2295.8 738.6 2296.8C741.4 2297.8 744.2 2298.8 747.0 2300.0C749.8 2301.1 752.5 2302.3 755.3 2303.5C758.0 2304.8 760.7 2306.1 763.4 2307.5C766.0 2308.9 768.6 2310.3 771.2 2311.8C773.8 2313.3 776.4 2314.9 778.9 2316.5C781.4 2318.2 783.9 2319.9 786.3 2321.6C788.8 2323.4 791.2 2325.2 793.5 2327.1C795.8 2329.0 798.1 2330.9 800.4 2332.9C802.6 2334.9 804.8 2336.9 807.0 2339.0C809.1 2341.1 811.2 2343.3 813.3 2345.5C815.3 2347.7 817.3 2349.9 819.2 2352.2C821.2 2354.5 823.1 2356.8 824.9 2359.2C826.8 2361.5 828.6 2363.9 830.3 2366.4C832.1 2368.8 833.8 2371.3 835.5 2373.8C837.2 2376.3 838.8 2378.8 840.4 2381.3C842.0 2383.9 843.6 2386.4 845.1 2389.0C846.6 2391.6 848.1 2394.2 849.6 2396.8C851.0 2399.4 852.5 2402.1 853.9 2404.7C855.3 2407.4 856.7 2410.0 858.1 2412.7C859.4 2415.4 860.8 2418.0 862.1 2420.7C863.4 2423.4 864.7 2426.1 866.0 2428.9C867.3 2431.6 868.6 2434.3 869.8 2437.0C871.1 2439.7 872.3 2442.5 873.5 2445.2C874.7 2448.0 875.9 2450.7 877.1 2453.5C878.3 2456.2 879.5 2459.0 880.7 2461.7C881.9 2464.5 883.0 2467.3 884.2 2470.0C885.4 2472.8 886.5 2475.6 887.6 2478.3C888.8 2481.1 889.9 2483.9 891.1 2486.7C892.2 2489.5 893.3 2492.2 894.5 2495.0C895.6 2497.8 896.7 2500.6 897.8 2503.4C899.0 2506.1 900.1 2508.9 901.3 2511.7C902.5 2514.4 903.7 2517.2 904.9 2519.9C906.2 2522.6 907.5 2525.4 908.9 2528.0C910.2 2530.7 911.7 2533.3 913.2 2535.9C914.8 2538.5 916.4 2541.0 918.2 2543.4C919.9 2545.8 921.8 2548.2 923.8 2550.4C925.8 2552.6 928.0 2554.8 930.2 2556.7C932.5 2558.7 934.9 2560.5 937.5 2562.1C940.0 2563.7 942.6 2565.2 945.4 2566.4C948.1 2567.6 951.0 2568.6 953.9 2569.4C956.8 2570.1 959.7 2570.6 962.7 2571.0C965.7 2571.4 968.7 2571.6 971.7 2571.7C974.7 2571.8 977.7 2571.8 980.7 2571.8C983.7 2571.8 986.7 2571.7 989.7 2571.6C992.7 2571.5 995.7 2571.4 998.7 2571.2C1001.7 2571.0 1004.7 2570.9 1007.7 2570.7C1010.7 2570.5 1013.7 2570.2 1016.6 2570.0C1019.6 2569.8 1022.6 2569.6 1025.6 2569.3C1028.6 2569.1 1031.6 2568.9 1034.6 2568.7C1037.6 2568.4 1040.6 2568.2 1043.6 2568.0C1046.6 2567.9 1049.6 2567.7 1052.6 2567.6C1055.6 2567.4 1058.6 2567.3 1061.6 2567.2C1064.6 2567.1 1067.6 2567.1 1070.6 2567.0C1073.6 2567.0 1076.6 2566.9 1079.6 2566.9C1082.6 2566.9 1085.6 2566.9 1088.6 2566.9C1091.6 2566.9 1094.6 2566.9 1097.6 2566.9C1100.6 2566.9 1103.6 2566.9 1106.6 2567.0C1109.6 2567.0 1112.6 2567.0 1115.6 2567.0C1118.6 2567.0 1121.6 2567.0 1124.6 2567.1C1127.6 2567.1 1130.6 2567.1 1133.6 2567.1C1136.6 2567.1 1139.6 2567.2 1142.6 2567.2C1145.6 2567.2 1148.6 2567.2 1151.6 2567.3C1154.6 2567.3 1157.6 2567.3 1160.6 2567.4C1163.6 2567.4 1166.6 2567.4 1169.6 2567.4C1172.6 2567.5 1175.6 2567.5 1178.6 2567.5C1181.6 2567.6 1184.6 2567.6 1187.6 2567.7C1190.6 2567.7 1193.6 2567.7 1196.6 2567.8C1199.6 2567.8 1202.6 2567.8 1205.6 2567.9C1208.6 2567.9 1211.6 2568.0 1214.6 2568.0C1217.7 2568.0 1220.7 2568.1 1223.7 2568.1C1226.7 2568.2 1229.7 2568.2 1232.7 2568.3C1235.7 2568.3 1238.7 2568.4 1241.7 2568.4C1244.7 2568.4 1247.7 2568.5 1250.7 2568.5C1253.7 2568.6 1256.7 2568.6 1259.7 2568.7C1262.7 2568.7 1265.7 2568.8 1268.7 2568.8C1271.7 2568.9 1274.7 2568.9 1277.7 2569.0C1280.7 2569.0 1283.7 2569.1 1286.7 2569.1C1289.7 2569.2 1292.7 2569.2 1295.7 2569.3C1298.7 2569.3 1301.7 2569.4 1304.7 2569.4C1307.7 2569.5 1310.7 2569.5 1313.7 2569.6C1316.7 2569.6 1319.7 2569.7 1322.7 2569.7C1325.7 2569.8 1328.7 2569.9 1331.7 2569.9C1334.7 2570.0 1337.7 2570.0 1340.7 2570.1C1343.7 2570.1 1346.7 2570.2 1349.7 2570.2C1352.7 2570.3 1355.7 2570.3 1358.7 2570.4C1361.7 2570.4 1364.7 2570.5 1367.7 2570.5C1370.7 2570.6 1373.7 2570.6 1376.7 2570.7C1379.7 2570.7 1382.7 2570.8 1385.7 2570.8C1388.7 2570.9 1391.7 2570.9 1394.7 2571.0C1397.7 2571.0 1400.7 2571.1 1403.7 2571.1C1406.7 2571.2 1409.7 2571.2 1412.7 2571.3C1415.7 2571.3 1418.7 2571.4 1421.7 2571.4C1424.7 2571.5 1427.7 2571.5 1430.7 2571.6C1433.7 2571.6 1436.7 2571.7 1439.7 2571.7C1442.7 2571.7 1445.7 2571.8 1448.7 2571.8C1451.7 2571.9 1454.7 2571.9 1457.7 2572.0C1460.7 2572.0 1463.7 2572.0 1466.7 2572.1C1469.7 2572.1 1472.7 2572.2 1475.8 2572.2C1478.8 2572.2 1481.8 2572.3 1484.8 2572.3C1487.8 2572.3 1490.8 2572.4 1493.8 2572.4C1496.8 2572.5 1499.8 2572.5 1502.8 2572.5C1505.8 2572.5 1508.8 2572.6 1511.8 2572.6C1514.8 2572.6 1517.8 2572.7 1520.8 2572.7C1523.8 2572.7 1526.8 2572.8 1529.8 2572.8C1532.8 2572.8 1535.8 2572.8 1538.8 2572.9C1541.8 2572.9 1544.8 2572.9 1547.8 2572.9C1550.8 2573.0 1553.8 2573.0 1556.8 2573.0C1559.8 2573.0 1562.8 2573.1 1565.8 2573.1C1568.8 2573.1 1571.8 2573.1 1574.8 2573.1C1577.8 2573.2 1580.8 2573.2 1583.8 2573.2C1586.8 2573.2 1589.8 2573.2 1592.8 2573.3C1595.8 2573.3 1598.8 2573.3 1601.8 2573.3C1604.8 2573.3 1607.8 2573.3 1610.8 2573.4C1613.8 2573.4 1616.8 2573.4 1619.8 2573.4C1622.8 2573.4 1625.8 2573.4 1628.8 2573.5C1631.8 2573.5 1634.8 2573.5 1637.8 2573.5C1640.8 2573.5 1643.8 2573.5 1646.8 2573.5C1649.8 2573.6 1652.8 2573.6 1655.8 2573.6C1658.8 2573.6 1661.8 2573.6 1664.8 2573.6C1667.8 2573.6 1670.8 2573.7 1673.8 2573.7C1676.8 2573.7 1679.9 2573.7 1682.9 2573.7C1685.9 2573.7 1688.9 2573.7 1691.9 2573.7C1694.9 2573.8 1697.9 2573.8 1700.9 2573.8C1703.9 2573.8 1706.9 2573.8 1709.9 2573.8C1712.9 2573.8 1715.9 2573.8 1718.9 2573.9C1721.9 2573.9 1724.9 2573.9 1727.9 2573.9C1730.9 2573.9 1733.9 2573.9 1736.9 2573.9C1739.9 2573.9 1742.9 2574.0 1745.9 2574.0C1748.9 2574.0 1751.9 2574.0 1754.9 2574.0C1757.9 2574.0 1760.9 2574.0 1763.9 2574.1C1766.9 2574.1 1769.9 2574.1 1772.9 2574.1C1775.9 2574.1 1778.9 2574.1 1781.9 2574.1C1784.9 2574.2 1787.9 2574.2 1790.9 2574.2C1793.9 2574.2 1796.9 2574.2 1799.9 2574.2C1802.9 2574.3 1805.9 2574.3 1808.9 2574.3C1811.9 2574.3 1814.9 2574.3 1817.9 2574.4C1820.9 2574.4 1823.9 2574.4 1826.9 2574.4C1829.9 2574.4 1832.9 2574.5 1835.9 2574.5C1838.9 2574.5 1841.9 2574.5 1844.9 2574.6C1847.9 2574.6 1850.9 2574.6 1853.9 2574.6C1856.9 2574.6 1859.9 2574.7 1862.9 2574.7C1865.9 2574.7 1868.9 2574.8 1871.9 2574.8C1874.9 2574.8 1877.9 2574.8 1881.0 2574.9C1884.0 2574.9 1887.0 2574.9 1890.0 2575.0C1893.0 2575.0 1896.0 2575.0 1899.0 2575.0C1902.0 2575.1 1905.0 2575.1 1908.0 2575.1C1911.0 2575.2 1914.0 2575.2 1917.0 2575.3C1920.0 2575.3 1923.0 2575.3 1926.0 2575.4C1929.0 2575.4 1932.0 2575.4 1935.0 2575.5C1938.0 2575.5 1941.0 2575.6 1944.0 2575.6C1947.0 2575.6 1950.0 2575.7 1953.0 2575.7C1956.0 2575.8 1959.0 2575.8 1962.0 2575.9C1965.0 2575.9 1968.0 2576.0 1971.0 2576.0C1974.0 2576.1 1977.0 2576.1 1980.0 2576.2C1983.0 2576.2 1986.0 2576.3 1989.0 2576.3C1992.0 2576.4 1995.0 2576.4 1998.0 2576.5" fill="none" stroke="#ee3e3e" stroke-width="7.0" stroke-linejoin="round" stroke-linecap="butt" clip-path="url(#cb)"/>
<path d="M267.0 3204.5C267.4 3201.5 267.8 3198.6 268.3 3195.6C268.7 3192.6 269.1 3189.6 269.5 3186.7C269.9 3183.7 270.4 3180.7 270.8 3177.8C271.2 3174.8 271.6 3171.8 272.1 3168.8C272.5 3165.9 272.9 3162.9 273.3 3159.9C273.8 3157.0 274.2 3154.0 274.6 3151.0C275.0 3148.0 275.5 3145.1 275.9 3142.1C276.3 3139.1 276.8 3136.2 277.2 3133.2C277.6 3130.2 278.1 3127.2 278.5 3124.3C278.9 3121.3 279.4 3118.3 279.8 3115.4C280.2 3112.4 280.7 3109.4 281.1 3106.5C281.5 3103.5 282.0 3100.5 282.4 3097.5C282.8 3094.6 283.3 3091.6 283.7 3088.6C284.1 3085.7 284.6 3082.7 285.0 3079.7C285.5 3076.8 285.9 3073.8 286.4 3070.8C286.8 3067.8 287.2 3064.9 287.7 3061.9C288.1 3058.9 288.6 3056.0 289.0 3053.0C289.5 3050.0 289.9 3047.1 290.4 3044.1C290.8 3041.1 291.2 3038.2 291.7 3035.2C292.1 3032.2 292.6 3029.3 293.0 3026.3C293.5 3023.3 294.0 3020.4 294.4 3017.4C294.9 3014.4 295.3 3011.5 295.8 3008.5C296.2 3005.5 296.7 3002.6 297.1 2999.6C297.6 2996.6 298.0 2993.7 298.5 2990.7C299.0 2987.7 299.4 2984.8 299.9 2981.8C300.3 2978.8 300.8 2975.9 301.3 2972.9C301.7 2969.9 302.2 2967.0 302.6 2964.0C303.1 2961.0 303.6 2958.1 304.0 2955.1C304.5 2952.1 305.0 2949.2 305.4 2946.2C305.9 2943.2 306.4 2940.3 306.8 2937.3C307.3 2934.3 307.8 2931.4 308.3 2928.4C308.7 2925.4 309.2 2922.5 309.7 2919.5C310.1 2916.6 310.6 2913.6 311.1 2910.6C311.6 2907.7 312.1 2904.7 312.5 2901.7C313.0 2898.8 313.5 2895.8 314.0 2892.8C314.4 2889.9 314.9 2886.9 315.4 2884.0C315.9 2881.0 316.4 2878.0 316.9 2875.1C317.3 2872.1 317.8 2869.1 318.3 2866.2C318.8 2863.2 319.3 2860.3 319.8 2857.3C320.3 2854.3 320.7 2851.4 321.2 2848.4C321.7 2845.5 322.2 2842.5 322.7 2839.5C323.2 2836.6 323.7 2833.6 324.2 2830.6C324.7 2827.7 325.2 2824.7 325.7 2821.8C326.2 2818.8 326.7 2815.8 327.2 2812.9C327.7 2809.9 328.2 2807.0 328.7 2804.0C329.2 2801.0 329.7 2798.1 330.2 2795.1C330.7 2792.2 331.2 2789.2 331.7 2786.3C332.2 2783.3 332.7 2780.3 333.2 2777.4C333.7 2774.4 334.2 2771.5 334.7 2768.5C335.3 2765.5 335.8 2762.6 336.3 2759.6C336.8 2756.7 337.3 2753.7 337.8 2750.8C338.3 2747.8 338.8 2744.8 339.4 2741.9C339.9 2738.9 340.4 2736.0 340.9 2733.0C341.4 2730.1 342.0 2727.1 342.5 2724.1C343.0 2721.2 343.5 2718.2 344.1 2715.3C344.6 2712.3 345.1 2709.4 345.6 2706.4C346.2 2703.5 346.7 2700.5 347.2 2697.5C347.7 2694.6 348.3 2691.6 348.8 2688.7C349.3 2685.7 349.9 2682.8 350.4 2679.8C350.9 2676.9 351.5 2673.9 352.0 2671.0C352.5 2668.0 353.1 2665.1 353.6 2662.1C354.2 2659.1 354.7 2656.2 355.2 2653.2C355.8 2650.3 356.3 2647.3 356.9 2644.4C357.4 2641.4 358.0 2638.5 358.5 2635.5C359.1 2632.6 359.6 2629.6 360.2 2626.7C360.7 2623.7 361.3 2620.8 361.8 2617.8C362.4 2614.9 362.9 2611.9 363.5 2609.0C364.0 2606.0 364.6 2603.1 365.1 2600.1C365.7 2597.2 366.3 2594.2 366.8 2591.3C367.4 2588.3 367.9 2585.4 368.5 2582.4C369.1 2579.5 369.6 2576.5 370.2 2573.6C370.8 2570.6 371.3 2567.7 371.9 2564.7C372.5 2561.8 373.0 2558.9 373.6 2555.9C374.2 2553.0 374.7 2550.0 375.3 2547.1C375.9 2544.1 376.5 2541.2 377.0 2538.2C377.6 2535.3 378.2 2532.3 378.8 2529.4C379.4 2526.4 379.9 2523.5 380.5 2520.6C381.1 2517.6 381.7 2514.7 382.3 2511.7C382.9 2508.8 383.5 2505.8 384.1 2502.9C384.7 2500.0 385.3 2497.0 385.9 2494.1C386.5 2491.1 387.1 2488.2 387.7 2485.3C388.4 2482.3 389.0 2479.4 389.6 2476.5C390.2 2473.5 390.8 2470.6 391.5 2467.6C392.1 2464.7 392.8 2461.8 393.4 2458.9C394.0 2455.9 394.7 2453.0 395.3 2450.1C396.0 2447.1 396.7 2444.2 397.3 2441.3C398.0 2438.3 398.7 2435.4 399.3 2432.5C400.0 2429.6 400.7 2426.7 401.4 2423.7C402.1 2420.8 402.8 2417.9 403.5 2415.0C404.2 2412.1 404.9 2409.1 405.6 2406.2C406.4 2403.3 407.1 2400.4 407.8 2397.5C408.6 2394.6 409.3 2391.7 410.1 2388.8C410.8 2385.9 411.6 2383.0 412.3 2380.1C413.1 2377.2 413.9 2374.3 414.7 2371.4C415.5 2368.5 416.3 2365.6 417.1 2362.7C417.9 2359.8 418.7 2356.9 419.5 2354.0C420.3 2351.1 421.2 2348.2 422.0 2345.4C422.8 2342.5 423.7 2339.6 424.6 2336.7C425.4 2333.8 426.3 2331.0 427.2 2328.1C428.1 2325.2 429.0 2322.4 429.9 2319.5C430.8 2316.7 431.7 2313.8 432.6 2310.9C433.5 2308.1 434.5 2305.2 435.4 2302.4C436.4 2299.5 437.4 2296.7 438.3 2293.9C439.3 2291.0 440.3 2288.2 441.3 2285.4C442.3 2282.5 443.3 2279.7 444.3 2276.9C445.3 2274.1 446.4 2271.2 447.4 2268.4C448.5 2265.6 449.5 2262.8 450.6 2260.0C451.7 2257.2 452.8 2254.4 453.9 2251.6C455.0 2248.8 456.1 2246.0 457.2 2243.2C458.4 2240.5 459.5 2237.7 460.7 2234.9C461.8 2232.2 463.0 2229.4 464.2 2226.6C465.4 2223.9 466.6 2221.1 467.8 2218.4C469.0 2215.6 470.2 2212.9 471.4 2210.2C472.7 2207.4 473.9 2204.7 475.2 2202.0C476.5 2199.2 477.7 2196.5 479.0 2193.8C480.3 2191.1 481.6 2188.4 482.9 2185.7C484.3 2183.0 485.6 2180.3 486.9 2177.6C488.3 2174.9 489.6 2172.3 491.0 2169.6C492.4 2166.9 493.7 2164.3 495.1 2161.6C496.5 2158.9 497.9 2156.3 499.3 2153.6C500.7 2151.0 502.2 2148.3 503.6 2145.7C505.0 2143.1 506.5 2140.4 507.9 2137.8C509.4 2135.2 510.9 2132.6 512.4 2130.0C513.9 2127.4 515.4 2124.8 516.9 2122.2C518.5 2119.6 520.1 2117.1 521.7 2114.5C523.3 2112.0 524.9 2109.5 526.6 2107.0C528.2 2104.5 529.9 2102.0 531.7 2099.6C533.4 2097.1 535.2 2094.7 537.0 2092.3C538.9 2090.0 540.7 2087.6 542.6 2085.3C544.6 2083.0 546.5 2080.7 548.6 2078.5C550.6 2076.3 552.6 2074.1 554.8 2072.0C556.9 2069.9 559.1 2067.8 561.3 2065.8C563.5 2063.8 565.8 2061.9 568.2 2060.0C570.5 2058.1 572.9 2056.3 575.4 2054.6C577.9 2052.9 580.4 2051.3 583.0 2049.7C585.6 2048.2 588.2 2046.8 590.9 2045.4C593.6 2044.1 596.3 2042.8 599.1 2041.7C601.9 2040.6 604.7 2039.6 607.6 2038.9C610.5 2038.2 613.5 2037.6 616.5 2037.5C619.5 2037.4 622.5 2037.5 625.5 2038.1C628.4 2038.7 631.3 2039.7 634.0 2040.9C636.7 2042.2 639.3 2043.8 641.7 2045.6C644.0 2047.4 646.2 2049.6 648.2 2051.8C650.3 2054.0 652.1 2056.3 653.9 2058.7C655.8 2061.1 657.4 2063.6 659.0 2066.1C660.6 2068.7 662.1 2071.3 663.6 2073.9C665.0 2076.6 666.3 2079.3 667.6 2082.0C668.8 2084.7 670.0 2087.5 671.1 2090.3C672.3 2093.0 673.3 2095.8 674.4 2098.7C675.4 2101.5 676.4 2104.3 677.3 2107.2C678.3 2110.0 679.2 2112.9 680.1 2115.7C681.0 2118.6 681.9 2121.5 682.8 2124.3C683.7 2127.2 684.5 2130.1 685.3 2133.0C686.2 2135.9 687.0 2138.7 687.8 2141.6C688.6 2144.5 689.3 2147.4 690.1 2150.3C690.9 2153.2 691.6 2156.1 692.4 2159.0C693.2 2161.9 693.9 2164.9 694.6 2167.8C695.4 2170.7 696.1 2173.6 696.9 2176.5C697.6 2179.4 698.3 2182.3 699.1 2185.2C699.8 2188.1 700.6 2191.0 701.3 2193.9C702.1 2196.8 702.9 2199.7 703.6 2202.6C704.4 2205.5 705.2 2208.4 706.0 2211.3C706.8 2214.2 707.6 2217.1 708.4 2220.0C709.3 2222.9 710.1 2225.8 711.0 2228.6C711.9 2231.5 712.8 2234.4 713.7 2237.2C714.6 2240.1 715.5 2242.9 716.5 2245.8C717.5 2248.6 718.5 2251.4 719.5 2254.3C720.6 2257.1 721.6 2259.9 722.7 2262.7C723.8 2265.5 724.9 2268.3 726.1 2271.0C727.2 2273.8 728.4 2276.6 729.6 2279.3C730.8 2282.1 732.1 2284.8 733.3 2287.5C734.6 2290.2 735.9 2293.0 737.2 2295.7C738.5 2298.4 739.8 2301.1 741.1 2303.8C742.4 2306.5 743.8 2309.1 745.1 2311.8C746.5 2314.5 747.9 2317.2 749.3 2319.8C750.7 2322.5 752.1 2325.1 753.5 2327.8C754.9 2330.4 756.3 2333.1 757.7 2335.7C759.1 2338.4 760.6 2341.0 762.0 2343.6C763.5 2346.3 765.0 2348.9 766.4 2351.5C767.9 2354.1 769.4 2356.7 770.9 2359.3C772.5 2361.9 774.0 2364.5 775.6 2367.0C777.1 2369.6 778.7 2372.1 780.5 2374.6C782.2 2377.0 784.1 2379.4 786.1 2381.6C788.1 2383.8 790.2 2386.0 792.5 2387.9C794.7 2389.9 797.1 2391.8 799.5 2393.5C802.0 2395.2 804.6 2396.8 807.2 2398.2C809.9 2399.6 812.6 2400.8 815.4 2401.9C818.2 2402.9 821.1 2403.8 824.0 2404.5C826.9 2405.3 829.9 2405.8 832.8 2406.3C835.8 2406.9 838.8 2407.3 841.7 2407.7C844.7 2408.2 847.7 2408.6 850.7 2409.0C853.6 2409.5 856.6 2410.0 859.5 2410.4C862.5 2410.9 865.5 2411.4 868.4 2411.9C871.4 2412.4 874.4 2412.9 877.3 2413.4C880.3 2413.9 883.2 2414.5 886.2 2414.9C889.2 2415.4 892.1 2415.9 895.1 2416.2C898.1 2416.6 901.1 2416.8 904.1 2417.0C907.1 2417.1 910.1 2417.2 913.1 2417.2C916.1 2417.2 919.1 2417.1 922.1 2417.0C925.1 2416.9 928.1 2416.8 931.1 2416.7C934.1 2416.6 937.1 2416.4 940.1 2416.4C943.1 2416.3 946.1 2416.3 949.1 2416.4C952.1 2416.4 955.1 2416.6 958.1 2416.8C961.1 2417.0 964.1 2417.3 967.0 2417.6C970.0 2417.9 973.0 2418.4 976.0 2418.8C978.9 2419.3 981.9 2419.8 984.8 2420.4C987.8 2420.9 990.7 2421.5 993.7 2422.2C996.6 2422.8 999.5 2423.5 1002.4 2424.3C1005.3 2425.0 1008.2 2425.8 1011.1 2426.5C1014.0 2427.3 1016.9 2428.1 1019.8 2428.9C1022.7 2429.7 1025.6 2430.6 1028.5 2431.4C1031.4 2432.2 1034.2 2433.0 1037.1 2433.8C1040.0 2434.6 1042.9 2435.4 1045.8 2436.2C1048.7 2437.0 1051.6 2437.7 1054.5 2438.4C1057.5 2439.1 1060.4 2439.8 1063.3 2440.5C1066.3 2441.1 1069.2 2441.7 1072.1 2442.3C1075.1 2442.9 1078.0 2443.4 1081.0 2443.9C1084.0 2444.4 1086.9 2444.9 1089.9 2445.4C1092.9 2445.8 1095.8 2446.2 1098.8 2446.6C1101.8 2447.0 1104.8 2447.4 1107.7 2447.8C1110.7 2448.1 1113.7 2448.5 1116.7 2448.8C1119.7 2449.1 1122.6 2449.4 1125.6 2449.7C1128.6 2450.0 1131.6 2450.3 1134.6 2450.5C1137.6 2450.8 1140.6 2451.0 1143.6 2451.3C1146.6 2451.5 1149.6 2451.7 1152.6 2452.0C1155.5 2452.2 1158.5 2452.4 1161.5 2452.6C1164.5 2452.9 1167.5 2453.1 1170.5 2453.3C1173.5 2453.5 1176.5 2453.7 1179.5 2453.9C1182.5 2454.2 1185.5 2454.4 1188.5 2454.6C1191.5 2454.9 1194.5 2455.1 1197.5 2455.3C1200.4 2455.6 1203.4 2455.9 1206.4 2456.1C1209.4 2456.4 1212.4 2456.7 1215.4 2457.0C1218.4 2457.3 1221.4 2457.6 1224.4 2457.9C1227.3 2458.1 1230.3 2458.4 1233.3 2458.7C1236.3 2459.0 1239.3 2459.3 1242.3 2459.5C1245.3 2459.8 1248.3 2460.0 1251.3 2460.2C1254.3 2460.4 1257.3 2460.6 1260.3 2460.7C1263.3 2460.9 1266.3 2461.0 1269.3 2461.0C1272.3 2461.1 1275.3 2461.2 1278.3 2461.2C1281.3 2461.3 1284.3 2461.3 1287.3 2461.4C1290.3 2461.4 1293.3 2461.5 1296.3 2461.6C1299.3 2461.7 1302.3 2461.8 1305.3 2461.9C1308.3 2462.0 1311.3 2462.1 1314.3 2462.3C1317.3 2462.5 1320.3 2462.6 1323.2 2462.8C1326.2 2463.0 1329.2 2463.3 1332.2 2463.5C1335.2 2463.8 1338.2 2464.0 1341.2 2464.3C1344.2 2464.6 1347.2 2464.9 1350.2 2465.3C1353.1 2465.6 1356.1 2465.9 1359.1 2466.3C1362.1 2466.6 1365.1 2466.9 1368.1 2467.2C1371.0 2467.6 1374.0 2467.9 1377.0 2468.1C1380.0 2468.4 1383.0 2468.7 1386.0 2468.9C1389.0 2469.1 1392.0 2469.2 1395.0 2469.3C1398.0 2469.4 1401.0 2469.5 1404.0 2469.5C1407.0 2469.5 1410.0 2469.4 1413.0 2469.3C1416.0 2469.2 1419.0 2469.0 1422.0 2468.9C1425.0 2468.7 1428.0 2468.5 1431.0 2468.3C1434.0 2468.1 1437.0 2467.9 1440.0 2467.8C1443.0 2467.6 1446.0 2467.5 1449.0 2467.4C1452.0 2467.4 1455.0 2467.4 1458.0 2467.4C1461.0 2467.5 1464.0 2467.6 1467.0 2467.7C1470.0 2467.9 1473.0 2468.0 1476.0 2468.2C1478.9 2468.4 1481.9 2468.6 1484.9 2468.7C1487.9 2468.9 1490.9 2469.0 1493.9 2469.2C1496.9 2469.3 1499.9 2469.4 1502.9 2469.5C1505.9 2469.6 1508.9 2469.7 1511.9 2469.8C1514.9 2469.9 1517.9 2470.0 1520.9 2470.1C1523.9 2470.1 1526.9 2470.2 1529.9 2470.2C1532.9 2470.3 1535.9 2470.3 1538.9 2470.4C1541.9 2470.4 1544.9 2470.4 1547.9 2470.4C1551.0 2470.5 1554.0 2470.5 1557.0 2470.5C1560.0 2470.5 1563.0 2470.5 1566.0 2470.5C1569.0 2470.5 1572.0 2470.5 1575.0 2470.5C1578.0 2470.5 1581.0 2470.5 1584.0 2470.5C1587.0 2470.5 1590.0 2470.5 1593.0 2470.5C1596.0 2470.5 1599.0 2470.5 1602.0 2470.5C1605.0 2470.5 1608.0 2470.5 1611.0 2470.5C1614.0 2470.5 1617.0 2470.5 1620.0 2470.5C1623.0 2470.5 1626.0 2470.5 1629.0 2470.5C1632.0 2470.5 1635.0 2470.5 1638.0 2470.6C1641.0 2470.6 1644.0 2470.6 1647.0 2470.7C1650.0 2470.7 1653.0 2470.8 1656.0 2470.8C1659.0 2470.9 1662.0 2470.9 1665.0 2471.0C1668.0 2471.1 1671.0 2471.1 1674.0 2471.2C1677.0 2471.3 1680.0 2471.3 1683.0 2471.4C1686.0 2471.5 1689.0 2471.6 1692.0 2471.7C1695.0 2471.7 1698.0 2471.8 1701.0 2471.9C1704.0 2472.0 1707.0 2472.0 1710.0 2472.1C1713.0 2472.2 1716.0 2472.2 1719.0 2472.3C1722.0 2472.4 1725.0 2472.4 1728.0 2472.5C1731.0 2472.5 1734.0 2472.5 1737.0 2472.6C1740.0 2472.6 1743.0 2472.6 1746.0 2472.6C1749.0 2472.7 1752.0 2472.7 1755.0 2472.6C1758.0 2472.6 1761.0 2472.6 1764.0 2472.6C1767.0 2472.5 1770.1 2472.5 1773.1 2472.4C1776.1 2472.3 1779.1 2472.3 1782.1 2472.2C1785.1 2472.1 1788.1 2471.9 1791.1 2471.8C1794.0 2471.7 1797.0 2471.5 1800.0 2471.3C1803.0 2471.2 1806.0 2471.0 1809.0 2470.8C1812.0 2470.6 1815.0 2470.4 1818.0 2470.2C1821.0 2470.1 1824.0 2469.9 1827.0 2469.8C1830.0 2469.6 1833.0 2469.5 1836.0 2469.5C1839.0 2469.4 1842.0 2469.4 1845.0 2469.4C1848.0 2469.4 1851.0 2469.5 1854.0 2469.6C1857.0 2469.7 1860.0 2469.9 1863.0 2470.0C1866.0 2470.1 1869.0 2470.2 1872.0 2470.3C1875.0 2470.4 1878.0 2470.5 1881.0 2470.6C1884.0 2470.7 1887.0 2470.8 1890.0 2470.8C1893.0 2470.9 1896.0 2471.0 1899.0 2471.0C1902.0 2471.0 1905.0 2471.1 1908.0 2471.1C1911.0 2471.1 1914.0 2471.1 1917.0 2471.1C1920.0 2471.1 1923.0 2471.1 1926.0 2471.1C1929.0 2471.1 1932.0 2471.0 1935.0 2471.0C1938.0 2470.9 1941.0 2470.9 1944.0 2470.8C1947.0 2470.7 1950.0 2470.7 1953.0 2470.6C1956.0 2470.5 1959.0 2470.4 1962.0 2470.2C1965.0 2470.1 1968.0 2470.0 1971.0 2469.8C1974.0 2469.7 1977.0 2469.5 1980.0 2469.3C1983.0 2469.2 1986.0 2469.0 1989.0 2468.8C1992.0 2468.6 1995.0 2468.3 1998.0 2468.1" fill="none" stroke="#000" stroke-width="7.0" stroke-linejoin="round" stroke-linecap="butt" clip-path="url(#cb)"/>
<text font-family="Liberation Serif, Times New Roman, serif" stroke="#000" stroke-width="0.2" font-size="72.2" text-anchor="middle" x="1134" y="3392">Strain (%)</text>
<text font-family="Liberation Serif, Times New Roman, serif" stroke="#000" stroke-width="0.2" font-size="72.2" text-anchor="middle" transform="translate(97.5 2477.3) rotate(-90)">Stress (MPa)</text>
<text font-family="Liberation Serif, Times New Roman, serif" stroke="#000" stroke-width="0.2" font-size="80" x="337.5" y="1924.5">(b)</text>
<line x1="1517" y1="1909.7" x2="1679.3" y2="1909.7" stroke="#000" stroke-width="6.0" stroke-linecap="round"/><text font-family="Liberation Serif, Times New Roman, serif" stroke="#000" stroke-width="0.2" font-size="72.2" x="1697" y="1933.5">PHS</text><line x1="1517" y1="1997.8" x2="1679.3" y2="1997.8" stroke="#5c6ef8" stroke-width="6.0" stroke-linecap="round"/><text font-family="Liberation Serif, Times New Roman, serif" stroke="#000" stroke-width="0.2" font-size="72.2" x="1697" y="2021.6">PHSF5</text><line x1="1517" y1="2085.9" x2="1679.3" y2="2085.9" stroke="#ee3e3e" stroke-width="6.0" stroke-linecap="round"/><text font-family="Liberation Serif, Times New Roman, serif" stroke="#000" stroke-width="0.2" font-size="72.2" x="1697" y="2109.7000000000003">PHSF10</text>
</svg>
</body></html>
